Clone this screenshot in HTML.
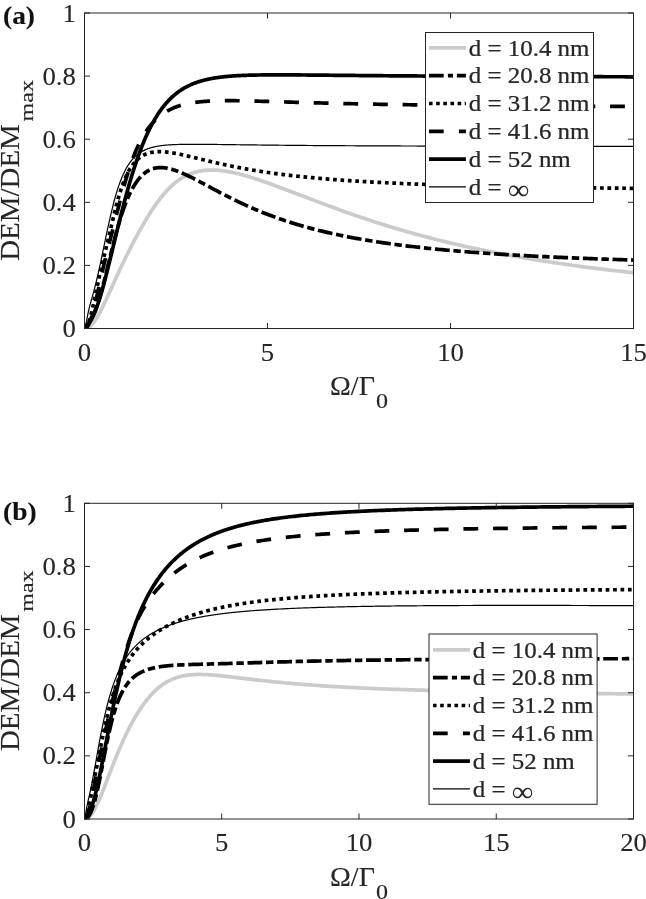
<!DOCTYPE html>
<html><head><meta charset="utf-8"><title>DEM plots</title>
<style>html,body{margin:0;padding:0;background:#fff}svg{display:block}text{font-family:"Liberation Serif","DejaVu Serif",serif;white-space:pre}</style>
</head><body>
<svg width="646" height="899" viewBox="0 0 646 899">
<rect width="646" height="899" fill="#fff"/>
<clipPath id="ca"><rect x="84.0" y="10.0" width="551.3" height="319.0"/></clipPath>
<g clip-path="url(#ca)" stroke-linejoin="round">
<path d="M84.50 328.50 L84.75 328.50 L85.00 328.48 L85.25 328.46 L85.50 328.42 L85.75 328.38 L86.00 328.33 L86.25 328.27 L86.50 328.19 L86.75 328.11 L87.00 328.02 L87.25 327.92 L87.50 327.81 L87.75 327.70 L88.00 327.57 L88.25 327.43 L88.50 327.29 L88.75 327.13 L89.00 326.97 L89.25 326.79 L89.50 326.61 L89.75 326.42 L90.00 326.22 L90.25 326.01 L90.50 325.80 L90.75 325.57 L91.00 325.34 L91.25 325.10 L91.50 324.84 L91.75 324.59 L92.00 324.32 L92.25 324.04 L92.50 323.76 L92.75 323.47 L93.00 323.17 L93.25 322.87 L93.50 322.55 L93.75 322.23 L94.00 321.91 L94.25 321.57 L94.50 321.23 L94.75 320.88 L95.00 320.52 L95.25 320.16 L95.50 319.79 L95.75 319.42 L96.00 319.04 L96.25 318.65 L96.50 318.25 L96.75 317.85 L97.00 317.45 L97.25 317.04 L97.50 316.62 L97.75 316.20 L98.00 315.77 L98.25 315.33 L98.50 314.90 L98.75 314.45 L99.00 314.00 L99.25 313.55 L99.50 313.09 L99.75 312.63 L100.00 312.16 L100.25 311.69 L100.50 311.22 L100.75 310.74 L101.00 310.26 L101.25 309.77 L101.50 309.28 L101.75 308.79 L102.00 308.29 L102.25 307.79 L102.50 307.28 L102.75 306.78 L103.00 306.27 L103.25 305.75 L103.50 305.24 L103.75 304.72 L104.00 304.20 L104.25 303.68 L104.50 303.15 L104.75 302.62 L105.00 302.09 L105.25 301.56 L105.50 301.03 L105.75 300.49 L106.00 299.96 L106.25 299.42 L106.50 298.88 L106.75 298.34 L107.00 297.79 L107.25 297.25 L107.50 296.70 L107.75 296.16 L108.00 295.61 L108.25 295.06 L108.50 294.51 L108.75 293.96 L109.00 293.41 L109.25 292.86 L109.50 292.31 L109.75 291.75 L110.00 291.20 L110.25 290.65 L110.50 290.09 L110.75 289.54 L111.00 288.99 L111.25 288.43 L111.50 287.88 L111.75 287.32 L112.00 286.77 L112.25 286.21 L112.50 285.66 L112.75 285.11 L113.00 284.55 L113.25 284.00 L113.50 283.45 L113.75 282.89 L114.00 282.34 L114.25 281.79 L114.50 281.24 L114.75 280.69 L115.00 280.14 L115.25 279.59 L115.50 279.04 L115.75 278.49 L116.00 277.94 L116.25 277.40 L116.50 276.85 L116.75 276.31 L117.00 275.76 L117.25 275.22 L117.50 274.67 L117.75 274.13 L118.00 273.59 L118.25 273.05 L118.50 272.51 L118.75 271.97 L119.00 271.44 L119.25 270.90 L119.50 270.37 L119.75 269.83 L120.00 269.30 L120.25 268.77 L120.50 268.23 L120.75 267.70 L121.00 267.17 L121.25 266.65 L121.50 266.12 L121.75 265.59 L122.00 265.07 L122.25 264.54 L122.50 264.02 L122.75 263.50 L123.00 262.98 L123.25 262.46 L123.50 261.94 L123.75 261.42 L124.00 260.91 L124.25 260.39 L124.50 259.88 L124.75 259.36 L125.00 258.85 L125.25 258.34 L125.50 257.83 L125.75 257.32 L126.00 256.82 L126.25 256.31 L126.50 255.80 L126.75 255.30 L127.00 254.80 L127.25 254.30 L127.50 253.79 L127.75 253.29 L128.00 252.80 L128.25 252.30 L128.50 251.80 L128.75 251.31 L129.00 250.81 L129.25 250.32 L129.50 249.82 L129.75 249.33 L130.00 248.84 L130.50 247.87 L131.00 246.89 L131.50 245.92 L132.00 244.96 L132.50 244.00 L133.00 243.04 L133.50 242.09 L134.00 241.14 L134.50 240.20 L135.00 239.26 L135.50 238.32 L136.00 237.39 L136.50 236.46 L137.00 235.54 L137.50 234.62 L138.00 233.71 L138.50 232.80 L139.00 231.89 L139.50 230.99 L140.00 230.09 L140.50 229.20 L141.00 228.31 L141.50 227.43 L142.00 226.55 L142.50 225.67 L143.00 224.80 L143.50 223.94 L144.00 223.08 L144.50 222.23 L145.00 221.38 L145.50 220.53 L146.00 219.70 L146.50 218.86 L147.00 218.04 L147.50 217.21 L148.00 216.40 L148.50 215.59 L149.00 214.78 L149.50 213.99 L150.00 213.19 L150.50 212.41 L151.00 211.63 L151.50 210.86 L152.00 210.09 L152.50 209.33 L153.00 208.58 L153.50 207.83 L154.00 207.09 L154.50 206.36 L155.00 205.63 L155.50 204.91 L156.00 204.20 L156.50 203.50 L157.00 202.80 L157.50 202.11 L158.00 201.43 L158.50 200.75 L159.00 200.09 L159.50 199.43 L160.00 198.78 L160.50 198.13 L161.00 197.50 L161.50 196.87 L162.00 196.25 L162.50 195.64 L163.00 195.03 L163.50 194.44 L164.00 193.85 L164.50 193.27 L165.00 192.70 L165.50 192.13 L166.00 191.58 L166.50 191.03 L167.00 190.49 L167.50 189.96 L168.00 189.43 L168.50 188.92 L169.00 188.41 L169.50 187.91 L170.00 187.42 L170.50 186.94 L171.00 186.46 L171.50 185.99 L172.00 185.53 L172.50 185.08 L173.00 184.64 L173.50 184.20 L174.00 183.78 L174.50 183.36 L175.00 182.95 L175.50 182.54 L176.00 182.15 L176.50 181.76 L177.00 181.38 L177.50 181.00 L178.00 180.64 L178.50 180.28 L179.00 179.93 L179.50 179.58 L180.00 179.25 L180.50 178.92 L181.00 178.60 L181.50 178.28 L182.00 177.97 L182.50 177.67 L183.00 177.38 L183.50 177.09 L184.00 176.81 L184.50 176.54 L185.00 176.27 L185.50 176.01 L186.00 175.76 L186.50 175.51 L187.00 175.27 L187.50 175.04 L188.00 174.81 L188.50 174.59 L189.00 174.37 L189.50 174.16 L190.00 173.96 L190.50 173.76 L191.00 173.57 L191.50 173.39 L192.00 173.21 L192.50 173.03 L193.00 172.87 L193.50 172.70 L194.00 172.55 L194.50 172.39 L195.00 172.25 L195.50 172.11 L196.00 171.97 L196.50 171.84 L197.00 171.72 L197.50 171.60 L198.00 171.48 L198.50 171.37 L199.00 171.26 L199.50 171.16 L200.00 171.07 L200.50 170.98 L201.00 170.89 L201.50 170.81 L202.00 170.73 L202.50 170.66 L203.00 170.59 L203.50 170.52 L204.00 170.46 L204.50 170.41 L205.00 170.35 L205.50 170.31 L206.00 170.26 L206.50 170.22 L207.00 170.19 L207.50 170.15 L208.00 170.13 L208.50 170.10 L209.00 170.08 L209.50 170.06 L210.00 170.05 L210.50 170.04 L211.00 170.03 L211.50 170.03 L212.00 170.03 L212.50 170.04 L213.00 170.04 L213.50 170.05 L214.00 170.07 L214.50 170.08 L215.00 170.10 L215.50 170.13 L216.00 170.15 L216.50 170.18 L217.00 170.21 L217.50 170.25 L218.00 170.28 L218.50 170.32 L219.00 170.37 L219.50 170.41 L220.00 170.46 L220.50 170.51 L221.00 170.57 L221.50 170.62 L222.00 170.68 L222.50 170.74 L223.00 170.81 L223.50 170.87 L224.00 170.94 L224.50 171.01 L225.00 171.09 L225.50 171.16 L226.00 171.24 L226.50 171.32 L227.00 171.40 L227.50 171.49 L228.00 171.57 L228.50 171.66 L229.00 171.75 L229.50 171.84 L230.00 171.94 L230.50 172.04 L231.00 172.13 L231.50 172.23 L232.00 172.34 L232.50 172.44 L233.00 172.55 L233.50 172.65 L234.00 172.76 L234.50 172.87 L235.00 172.99 L235.50 173.10 L236.00 173.22 L236.50 173.33 L237.00 173.45 L237.50 173.57 L238.00 173.70 L238.50 173.82 L239.00 173.95 L239.50 174.07 L240.00 174.20 L240.50 174.33 L241.00 174.46 L241.50 174.59 L242.00 174.73 L242.50 174.86 L243.00 175.00 L243.50 175.13 L244.00 175.27 L244.50 175.41 L245.00 175.55 L245.50 175.70 L246.00 175.84 L246.50 175.98 L247.00 176.13 L247.50 176.28 L248.00 176.43 L248.50 176.57 L249.00 176.72 L249.50 176.88 L250.00 177.03 L252.00 177.65 L254.00 178.28 L256.00 178.92 L258.00 179.58 L260.00 180.26 L262.00 180.94 L264.00 181.63 L266.00 182.33 L268.00 183.04 L270.00 183.76 L272.00 184.48 L274.00 185.21 L276.00 185.95 L278.00 186.69 L280.00 187.43 L282.00 188.18 L284.00 188.94 L286.00 189.69 L288.00 190.45 L290.00 191.21 L292.00 191.97 L294.00 192.74 L296.00 193.50 L298.00 194.27 L300.00 195.03 L302.00 195.80 L304.00 196.56 L306.00 197.33 L308.00 198.09 L310.00 198.85 L312.00 199.61 L314.00 200.37 L316.00 201.13 L318.00 201.88 L320.00 202.64 L322.00 203.39 L324.00 204.14 L326.00 204.88 L328.00 205.62 L330.00 206.36 L332.00 207.10 L334.00 207.83 L336.00 208.56 L338.00 209.28 L340.00 210.01 L342.00 210.72 L344.00 211.44 L346.00 212.15 L348.00 212.85 L350.00 213.56 L352.00 214.25 L354.00 214.95 L356.00 215.64 L358.00 216.32 L360.00 217.00 L362.00 217.68 L364.00 218.35 L366.00 219.02 L368.00 219.68 L370.00 220.34 L372.00 220.99 L374.00 221.64 L376.00 222.28 L378.00 222.92 L380.00 223.56 L382.00 224.19 L384.00 224.81 L386.00 225.43 L388.00 226.05 L390.00 226.66 L392.00 227.27 L394.00 227.87 L396.00 228.47 L398.00 229.06 L400.00 229.65 L402.00 230.23 L404.00 230.81 L406.00 231.38 L408.00 231.95 L410.00 232.51 L412.00 233.07 L414.00 233.63 L416.00 234.18 L418.00 234.72 L420.00 235.27 L422.00 235.80 L424.00 236.33 L426.00 236.86 L428.00 237.39 L430.00 237.91 L432.00 238.42 L434.00 238.93 L436.00 239.44 L438.00 239.94 L440.00 240.43 L442.00 240.93 L444.00 241.42 L446.00 241.90 L448.00 242.38 L450.00 242.86 L452.00 243.33 L454.00 243.80 L456.00 244.26 L458.00 244.72 L460.00 245.17 L462.00 245.63 L464.00 246.07 L466.00 246.52 L468.00 246.96 L470.00 247.39 L472.00 247.82 L474.00 248.25 L476.00 248.68 L478.00 249.10 L480.00 249.52 L482.00 249.93 L484.00 250.34 L486.00 250.74 L488.00 251.15 L490.00 251.55 L492.00 251.94 L494.00 252.33 L496.00 252.72 L498.00 253.11 L500.00 253.49 L502.00 253.87 L504.00 254.24 L506.00 254.61 L508.00 254.98 L510.00 255.35 L512.00 255.71 L514.00 256.07 L516.00 256.42 L518.00 256.77 L520.00 257.12 L522.00 257.47 L524.00 257.81 L526.00 258.15 L528.00 258.49 L530.00 258.82 L532.00 259.16 L534.00 259.48 L536.00 259.81 L538.00 260.13 L540.00 260.45 L542.00 260.77 L544.00 261.08 L546.00 261.39 L548.00 261.70 L550.00 262.01 L552.00 262.31 L554.00 262.61 L556.00 262.91 L558.00 263.21 L560.00 263.50 L562.00 263.79 L564.00 264.08 L566.00 264.36 L568.00 264.65 L570.00 264.93 L572.00 265.21 L574.00 265.48 L576.00 265.76 L578.00 266.03 L580.00 266.30 L582.00 266.56 L584.00 266.83 L586.00 267.09 L588.00 267.35 L590.00 267.60 L592.00 267.86 L594.00 268.11 L596.00 268.36 L598.00 268.61 L600.00 268.86 L602.00 269.10 L604.00 269.35 L606.00 269.59 L608.00 269.83 L610.00 270.06 L612.00 270.30 L614.00 270.53 L616.00 270.76 L618.00 270.99 L620.00 271.22 L622.00 271.44 L624.00 271.66 L626.00 271.89 L628.00 272.10 L630.00 272.32 L632.00 272.54 L633.50 272.70" stroke="#cbcbcb" stroke-width="3.7" fill="none"/>
<path d="M84.50 328.50 L84.75 328.48 L85.00 328.42 L85.25 328.33 L85.50 328.19 L85.75 328.02 L86.00 327.82 L86.25 327.58 L86.50 327.31 L86.75 327.01 L87.00 326.69 L87.25 326.34 L87.50 325.96 L87.75 325.57 L88.00 325.16 L88.25 324.73 L88.50 324.29 L88.75 323.83 L89.00 323.37 L89.25 322.89 L89.50 322.41 L89.75 321.92 L90.00 321.43 L90.25 320.93 L90.50 320.43 L90.75 319.92 L91.00 319.41 L91.25 318.90 L91.50 318.38 L91.75 317.86 L92.00 317.34 L92.25 316.81 L92.50 316.28 L92.75 315.75 L93.00 315.21 L93.25 314.66 L93.50 314.11 L93.75 313.56 L94.00 312.99 L94.25 312.42 L94.50 311.84 L94.75 311.25 L95.00 310.65 L95.25 310.05 L95.50 309.43 L95.75 308.80 L96.00 308.17 L96.25 307.52 L96.50 306.86 L96.75 306.19 L97.00 305.50 L97.25 304.81 L97.50 304.10 L97.75 303.38 L98.00 302.65 L98.25 301.90 L98.50 301.15 L98.75 300.38 L99.00 299.60 L99.25 298.80 L99.50 298.00 L99.75 297.18 L100.00 296.35 L100.25 295.51 L100.50 294.66 L100.75 293.80 L101.00 292.93 L101.25 292.04 L101.50 291.15 L101.75 290.24 L102.00 289.33 L102.25 288.41 L102.50 287.48 L102.75 286.54 L103.00 285.59 L103.25 284.63 L103.50 283.67 L103.75 282.70 L104.00 281.72 L104.25 280.74 L104.50 279.75 L104.75 278.76 L105.00 277.76 L105.25 276.75 L105.50 275.74 L105.75 274.73 L106.00 273.71 L106.25 272.69 L106.50 271.67 L106.75 270.65 L107.00 269.62 L107.25 268.59 L107.50 267.56 L107.75 266.53 L108.00 265.49 L108.25 264.46 L108.50 263.43 L108.75 262.39 L109.00 261.36 L109.25 260.33 L109.50 259.30 L109.75 258.27 L110.00 257.24 L110.25 256.21 L110.50 255.19 L110.75 254.17 L111.00 253.15 L111.25 252.13 L111.50 251.12 L111.75 250.11 L112.00 249.10 L112.25 248.10 L112.50 247.10 L112.75 246.11 L113.00 245.12 L113.25 244.14 L113.50 243.15 L113.75 242.18 L114.00 241.21 L114.25 240.24 L114.50 239.28 L114.75 238.33 L115.00 237.38 L115.25 236.44 L115.50 235.50 L115.75 234.57 L116.00 233.64 L116.25 232.73 L116.50 231.81 L116.75 230.91 L117.00 230.01 L117.25 229.12 L117.50 228.23 L117.75 227.35 L118.00 226.48 L118.25 225.61 L118.50 224.75 L118.75 223.90 L119.00 223.06 L119.25 222.22 L119.50 221.39 L119.75 220.57 L120.00 219.76 L120.25 218.95 L120.50 218.15 L120.75 217.35 L121.00 216.57 L121.25 215.79 L121.50 215.02 L121.75 214.26 L122.00 213.50 L122.25 212.75 L122.50 212.01 L122.75 211.28 L123.00 210.55 L123.25 209.83 L123.50 209.12 L123.75 208.42 L124.00 207.72 L124.25 207.04 L124.50 206.36 L124.75 205.68 L125.00 205.02 L125.25 204.36 L125.50 203.71 L125.75 203.06 L126.00 202.43 L126.25 201.80 L126.50 201.18 L126.75 200.56 L127.00 199.96 L127.25 199.36 L127.50 198.77 L127.75 198.18 L128.00 197.60 L128.25 197.03 L128.50 196.47 L128.75 195.91 L129.00 195.36 L129.25 194.82 L129.50 194.28 L129.75 193.76 L130.00 193.23 L130.50 192.21 L131.00 191.21 L131.50 190.24 L132.00 189.30 L132.50 188.39 L133.00 187.49 L133.50 186.63 L134.00 185.79 L134.50 184.97 L135.00 184.18 L135.50 183.41 L136.00 182.66 L136.50 181.94 L137.00 181.24 L137.50 180.57 L138.00 179.91 L138.50 179.28 L139.00 178.67 L139.50 178.07 L140.00 177.50 L140.50 176.95 L141.00 176.42 L141.50 175.91 L142.00 175.42 L142.50 174.94 L143.00 174.49 L143.50 174.05 L144.00 173.63 L144.50 173.22 L145.00 172.84 L145.50 172.47 L146.00 172.11 L146.50 171.78 L147.00 171.45 L147.50 171.15 L148.00 170.85 L148.50 170.58 L149.00 170.31 L149.50 170.06 L150.00 169.83 L150.50 169.61 L151.00 169.40 L151.50 169.20 L152.00 169.02 L152.50 168.85 L153.00 168.69 L153.50 168.54 L154.00 168.41 L154.50 168.28 L155.00 168.17 L155.50 168.07 L156.00 167.98 L156.50 167.89 L157.00 167.82 L157.50 167.76 L158.00 167.71 L158.50 167.67 L159.00 167.63 L159.50 167.61 L160.00 167.59 L160.50 167.59 L161.00 167.59 L161.50 167.60 L162.00 167.61 L162.50 167.64 L163.00 167.67 L163.50 167.71 L164.00 167.76 L164.50 167.81 L165.00 167.87 L165.50 167.94 L166.00 168.02 L166.50 168.10 L167.00 168.18 L167.50 168.28 L168.00 168.38 L168.50 168.48 L169.00 168.59 L169.50 168.71 L170.00 168.83 L170.50 168.95 L171.00 169.09 L171.50 169.22 L172.00 169.36 L172.50 169.51 L173.00 169.66 L173.50 169.81 L174.00 169.97 L174.50 170.14 L175.00 170.30 L175.50 170.48 L176.00 170.65 L176.50 170.83 L177.00 171.01 L177.50 171.20 L178.00 171.39 L178.50 171.58 L179.00 171.78 L179.50 171.97 L180.00 172.18 L180.50 172.38 L181.00 172.59 L181.50 172.80 L182.00 173.01 L182.50 173.23 L183.00 173.45 L183.50 173.67 L184.00 173.89 L184.50 174.11 L185.00 174.34 L185.50 174.57 L186.00 174.80 L186.50 175.04 L187.00 175.27 L187.50 175.51 L188.00 175.75 L188.50 175.99 L189.00 176.23 L189.50 176.48 L190.00 176.72 L190.50 176.97 L191.00 177.22 L191.50 177.47 L192.00 177.72 L192.50 177.97 L193.00 178.22 L193.50 178.48 L194.00 178.73 L194.50 178.99 L195.00 179.25 L195.50 179.50 L196.00 179.76 L196.50 180.02 L197.00 180.28 L197.50 180.55 L198.00 180.81 L198.50 181.07 L199.00 181.33 L199.50 181.60 L200.00 181.86 L200.50 182.13 L201.00 182.39 L201.50 182.66 L202.00 182.93 L202.50 183.19 L203.00 183.46 L203.50 183.73 L204.00 184.00 L204.50 184.26 L205.00 184.53 L205.50 184.80 L206.00 185.07 L206.50 185.34 L207.00 185.60 L207.50 185.87 L208.00 186.14 L208.50 186.41 L209.00 186.68 L209.50 186.95 L210.00 187.22 L210.50 187.48 L211.00 187.75 L211.50 188.02 L212.00 188.29 L212.50 188.56 L213.00 188.82 L213.50 189.09 L214.00 189.36 L214.50 189.62 L215.00 189.89 L215.50 190.16 L216.00 190.42 L216.50 190.69 L217.00 190.95 L217.50 191.22 L218.00 191.48 L218.50 191.75 L219.00 192.01 L219.50 192.27 L220.00 192.54 L220.50 192.80 L221.00 193.06 L221.50 193.32 L222.00 193.58 L222.50 193.84 L223.00 194.10 L223.50 194.36 L224.00 194.62 L224.50 194.88 L225.00 195.13 L225.50 195.39 L226.00 195.65 L226.50 195.90 L227.00 196.16 L227.50 196.41 L228.00 196.67 L228.50 196.92 L229.00 197.17 L229.50 197.42 L230.00 197.68 L230.50 197.93 L231.00 198.18 L231.50 198.43 L232.00 198.67 L232.50 198.92 L233.00 199.17 L233.50 199.42 L234.00 199.66 L234.50 199.91 L235.00 200.15 L235.50 200.39 L236.00 200.64 L236.50 200.88 L237.00 201.12 L237.50 201.36 L238.00 201.60 L238.50 201.84 L239.00 202.08 L239.50 202.32 L240.00 202.55 L240.50 202.79 L241.00 203.02 L241.50 203.26 L242.00 203.49 L242.50 203.72 L243.00 203.96 L243.50 204.19 L244.00 204.42 L244.50 204.65 L245.00 204.88 L245.50 205.11 L246.00 205.33 L246.50 205.56 L247.00 205.79 L247.50 206.01 L248.00 206.23 L248.50 206.46 L249.00 206.68 L249.50 206.90 L250.00 207.12 L252.00 208.00 L254.00 208.86 L256.00 209.71 L258.00 210.55 L260.00 211.37 L262.00 212.18 L264.00 212.98 L266.00 213.77 L268.00 214.54 L270.00 215.30 L272.00 216.05 L274.00 216.78 L276.00 217.51 L278.00 218.22 L280.00 218.92 L282.00 219.61 L284.00 220.28 L286.00 220.95 L288.00 221.60 L290.00 222.25 L292.00 222.88 L294.00 223.50 L296.00 224.11 L298.00 224.71 L300.00 225.30 L302.00 225.88 L304.00 226.45 L306.00 227.01 L308.00 227.56 L310.00 228.10 L312.00 228.64 L314.00 229.16 L316.00 229.67 L318.00 230.18 L320.00 230.68 L322.00 231.16 L324.00 231.64 L326.00 232.12 L328.00 232.58 L330.00 233.04 L332.00 233.48 L334.00 233.93 L336.00 234.36 L338.00 234.79 L340.00 235.20 L342.00 235.62 L344.00 236.02 L346.00 236.42 L348.00 236.81 L350.00 237.20 L352.00 237.58 L354.00 237.95 L356.00 238.32 L358.00 238.68 L360.00 239.03 L362.00 239.38 L364.00 239.73 L366.00 240.06 L368.00 240.40 L370.00 240.72 L372.00 241.04 L374.00 241.36 L376.00 241.67 L378.00 241.98 L380.00 242.28 L382.00 242.58 L384.00 242.87 L386.00 243.16 L388.00 243.44 L390.00 243.72 L392.00 244.00 L394.00 244.27 L396.00 244.53 L398.00 244.80 L400.00 245.06 L402.00 245.31 L404.00 245.56 L406.00 245.81 L408.00 246.05 L410.00 246.29 L412.00 246.53 L414.00 246.76 L416.00 246.99 L418.00 247.21 L420.00 247.43 L422.00 247.65 L424.00 247.87 L426.00 248.08 L428.00 248.29 L430.00 248.50 L432.00 248.70 L434.00 248.90 L436.00 249.10 L438.00 249.29 L440.00 249.49 L442.00 249.68 L444.00 249.86 L446.00 250.05 L448.00 250.23 L450.00 250.41 L452.00 250.58 L454.00 250.76 L456.00 250.93 L458.00 251.10 L460.00 251.27 L462.00 251.43 L464.00 251.59 L466.00 251.75 L468.00 251.91 L470.00 252.07 L472.00 252.22 L474.00 252.37 L476.00 252.52 L478.00 252.67 L480.00 252.82 L482.00 252.96 L484.00 253.10 L486.00 253.24 L488.00 253.38 L490.00 253.52 L492.00 253.65 L494.00 253.79 L496.00 253.92 L498.00 254.05 L500.00 254.18 L502.00 254.30 L504.00 254.43 L506.00 254.55 L508.00 254.67 L510.00 254.79 L512.00 254.91 L514.00 255.03 L516.00 255.14 L518.00 255.26 L520.00 255.37 L522.00 255.48 L524.00 255.59 L526.00 255.70 L528.00 255.81 L530.00 255.92 L532.00 256.02 L534.00 256.13 L536.00 256.23 L538.00 256.33 L540.00 256.43 L542.00 256.53 L544.00 256.63 L546.00 256.72 L548.00 256.82 L550.00 256.91 L552.00 257.01 L554.00 257.10 L556.00 257.19 L558.00 257.28 L560.00 257.37 L562.00 257.46 L564.00 257.54 L566.00 257.63 L568.00 257.71 L570.00 257.80 L572.00 257.88 L574.00 257.96 L576.00 258.05 L578.00 258.13 L580.00 258.21 L582.00 258.28 L584.00 258.36 L586.00 258.44 L588.00 258.51 L590.00 258.59 L592.00 258.66 L594.00 258.74 L596.00 258.81 L598.00 258.88 L600.00 258.95 L602.00 259.03 L604.00 259.09 L606.00 259.16 L608.00 259.23 L610.00 259.30 L612.00 259.37 L614.00 259.43 L616.00 259.50 L618.00 259.56 L620.00 259.63 L622.00 259.69 L624.00 259.75 L626.00 259.82 L628.00 259.88 L630.00 259.94 L632.00 260.00 L633.50 260.04" stroke="#000" stroke-width="3.7" fill="none" stroke-dasharray="14.82 3.71 7.41 3.71" stroke-dashoffset="29.09"/>
<path d="M84.50 328.50 L84.75 328.48 L85.00 328.41 L85.25 328.30 L85.50 328.15 L85.75 327.95 L86.00 327.70 L86.25 327.42 L86.50 327.09 L86.75 326.72 L87.00 326.31 L87.25 325.86 L87.50 325.36 L87.75 324.83 L88.00 324.26 L88.25 323.65 L88.50 323.01 L88.75 322.33 L89.00 321.61 L89.25 320.86 L89.50 320.08 L89.75 319.26 L90.00 318.42 L90.25 317.55 L90.50 316.65 L90.75 315.72 L91.00 314.76 L91.25 313.79 L91.50 312.79 L91.75 311.76 L92.00 310.72 L92.25 309.66 L92.50 308.58 L92.75 307.49 L93.00 306.38 L93.25 305.25 L93.50 304.11 L93.75 302.97 L94.00 301.81 L94.25 300.64 L94.50 299.47 L94.75 298.28 L95.00 297.10 L95.25 295.91 L95.50 294.71 L95.75 293.52 L96.00 292.32 L96.25 291.12 L96.50 289.92 L96.75 288.73 L97.00 287.53 L97.25 286.34 L97.50 285.15 L97.75 283.97 L98.00 282.79 L98.25 281.62 L98.50 280.45 L98.75 279.29 L99.00 278.14 L99.25 276.99 L99.50 275.85 L99.75 274.72 L100.00 273.59 L100.25 272.48 L100.50 271.37 L100.75 270.26 L101.00 269.17 L101.25 268.08 L101.50 267.00 L101.75 265.93 L102.00 264.86 L102.25 263.80 L102.50 262.75 L102.75 261.70 L103.00 260.66 L103.25 259.62 L103.50 258.59 L103.75 257.55 L104.00 256.53 L104.25 255.50 L104.50 254.48 L104.75 253.46 L105.00 252.44 L105.25 251.42 L105.50 250.40 L105.75 249.38 L106.00 248.36 L106.25 247.34 L106.50 246.31 L106.75 245.29 L107.00 244.26 L107.25 243.23 L107.50 242.20 L107.75 241.16 L108.00 240.12 L108.25 239.08 L108.50 238.04 L108.75 236.99 L109.00 235.94 L109.25 234.89 L109.50 233.83 L109.75 232.77 L110.00 231.71 L110.25 230.65 L110.50 229.59 L110.75 228.53 L111.00 227.46 L111.25 226.40 L111.50 225.33 L111.75 224.27 L112.00 223.21 L112.25 222.15 L112.50 221.09 L112.75 220.03 L113.00 218.98 L113.25 217.94 L113.50 216.89 L113.75 215.85 L114.00 214.82 L114.25 213.79 L114.50 212.77 L114.75 211.76 L115.00 210.75 L115.25 209.75 L115.50 208.75 L115.75 207.77 L116.00 206.79 L116.25 205.83 L116.50 204.87 L116.75 203.92 L117.00 202.98 L117.25 202.05 L117.50 201.13 L117.75 200.23 L118.00 199.33 L118.25 198.44 L118.50 197.56 L118.75 196.70 L119.00 195.84 L119.25 195.00 L119.50 194.17 L119.75 193.35 L120.00 192.54 L120.25 191.74 L120.50 190.95 L120.75 190.17 L121.00 189.41 L121.25 188.66 L121.50 187.91 L121.75 187.18 L122.00 186.46 L122.25 185.75 L122.50 185.06 L122.75 184.37 L123.00 183.69 L123.25 183.03 L123.50 182.37 L123.75 181.73 L124.00 181.10 L124.25 180.47 L124.50 179.86 L124.75 179.26 L125.00 178.67 L125.25 178.09 L125.50 177.51 L125.75 176.95 L126.00 176.40 L126.25 175.85 L126.50 175.32 L126.75 174.80 L127.00 174.28 L127.25 173.78 L127.50 173.28 L127.75 172.79 L128.00 172.31 L128.25 171.84 L128.50 171.38 L128.75 170.92 L129.00 170.48 L129.25 170.04 L129.50 169.61 L129.75 169.19 L130.00 168.77 L130.50 167.97 L131.00 167.19 L131.50 166.44 L132.00 165.72 L132.50 165.03 L133.00 164.37 L133.50 163.73 L134.00 163.11 L134.50 162.52 L135.00 161.95 L135.50 161.40 L136.00 160.88 L136.50 160.37 L137.00 159.89 L137.50 159.43 L138.00 158.98 L138.50 158.56 L139.00 158.15 L139.50 157.76 L140.00 157.39 L140.50 157.03 L141.00 156.69 L141.50 156.36 L142.00 156.05 L142.50 155.75 L143.00 155.47 L143.50 155.20 L144.00 154.94 L144.50 154.70 L145.00 154.46 L145.50 154.24 L146.00 154.04 L146.50 153.84 L147.00 153.65 L147.50 153.48 L148.00 153.31 L148.50 153.15 L149.00 153.01 L149.50 152.87 L150.00 152.74 L150.50 152.62 L151.00 152.51 L151.50 152.40 L152.00 152.31 L152.50 152.22 L153.00 152.14 L153.50 152.07 L154.00 152.00 L154.50 151.94 L155.00 151.89 L155.50 151.84 L156.00 151.80 L156.50 151.77 L157.00 151.74 L157.50 151.71 L158.00 151.70 L158.50 151.68 L159.00 151.67 L159.50 151.67 L160.00 151.67 L160.50 151.68 L161.00 151.69 L161.50 151.71 L162.00 151.73 L162.50 151.75 L163.00 151.78 L163.50 151.81 L164.00 151.84 L164.50 151.88 L165.00 151.92 L165.50 151.97 L166.00 152.02 L166.50 152.07 L167.00 152.12 L167.50 152.18 L168.00 152.24 L168.50 152.30 L169.00 152.37 L169.50 152.43 L170.00 152.50 L170.50 152.58 L171.00 152.65 L171.50 152.73 L172.00 152.81 L172.50 152.89 L173.00 152.97 L173.50 153.06 L174.00 153.14 L174.50 153.23 L175.00 153.32 L175.50 153.42 L176.00 153.51 L176.50 153.60 L177.00 153.70 L177.50 153.80 L178.00 153.90 L178.50 154.00 L179.00 154.10 L179.50 154.20 L180.00 154.31 L180.50 154.41 L181.00 154.52 L181.50 154.63 L182.00 154.73 L182.50 154.84 L183.00 154.95 L183.50 155.06 L184.00 155.17 L184.50 155.29 L185.00 155.40 L185.50 155.51 L186.00 155.63 L186.50 155.74 L187.00 155.86 L187.50 155.97 L188.00 156.09 L188.50 156.21 L189.00 156.33 L189.50 156.44 L190.00 156.56 L190.50 156.68 L191.00 156.80 L191.50 156.92 L192.00 157.04 L192.50 157.16 L193.00 157.28 L193.50 157.40 L194.00 157.52 L194.50 157.64 L195.00 157.76 L195.50 157.88 L196.00 158.00 L196.50 158.12 L197.00 158.24 L197.50 158.36 L198.00 158.48 L198.50 158.61 L199.00 158.73 L199.50 158.85 L200.00 158.97 L200.50 159.09 L201.00 159.21 L201.50 159.33 L202.00 159.45 L202.50 159.57 L203.00 159.69 L203.50 159.82 L204.00 159.94 L204.50 160.06 L205.00 160.18 L205.50 160.30 L206.00 160.42 L206.50 160.54 L207.00 160.65 L207.50 160.77 L208.00 160.89 L208.50 161.01 L209.00 161.13 L209.50 161.25 L210.00 161.37 L210.50 161.48 L211.00 161.60 L211.50 161.72 L212.00 161.83 L212.50 161.95 L213.00 162.07 L213.50 162.18 L214.00 162.30 L214.50 162.41 L215.00 162.53 L215.50 162.64 L216.00 162.76 L216.50 162.87 L217.00 162.99 L217.50 163.10 L218.00 163.21 L218.50 163.32 L219.00 163.44 L219.50 163.55 L220.00 163.66 L220.50 163.77 L221.00 163.88 L221.50 163.99 L222.00 164.10 L222.50 164.21 L223.00 164.32 L223.50 164.43 L224.00 164.54 L224.50 164.65 L225.00 164.75 L225.50 164.86 L226.00 164.97 L226.50 165.07 L227.00 165.18 L227.50 165.29 L228.00 165.39 L228.50 165.50 L229.00 165.60 L229.50 165.70 L230.00 165.81 L230.50 165.91 L231.00 166.01 L231.50 166.12 L232.00 166.22 L232.50 166.32 L233.00 166.42 L233.50 166.52 L234.00 166.62 L234.50 166.72 L235.00 166.82 L235.50 166.92 L236.00 167.02 L236.50 167.12 L237.00 167.21 L237.50 167.31 L238.00 167.41 L238.50 167.50 L239.00 167.60 L239.50 167.70 L240.00 167.79 L240.50 167.89 L241.00 167.98 L241.50 168.07 L242.00 168.17 L242.50 168.26 L243.00 168.35 L243.50 168.45 L244.00 168.54 L244.50 168.63 L245.00 168.72 L245.50 168.81 L246.00 168.90 L246.50 168.99 L247.00 169.08 L247.50 169.17 L248.00 169.26 L248.50 169.34 L249.00 169.43 L249.50 169.52 L250.00 169.61 L252.00 169.95 L254.00 170.29 L256.00 170.62 L258.00 170.94 L260.00 171.26 L262.00 171.57 L264.00 171.88 L266.00 172.18 L268.00 172.47 L270.00 172.76 L272.00 173.04 L274.00 173.32 L276.00 173.59 L278.00 173.86 L280.00 174.12 L282.00 174.38 L284.00 174.63 L286.00 174.87 L288.00 175.12 L290.00 175.35 L292.00 175.58 L294.00 175.81 L296.00 176.04 L298.00 176.25 L300.00 176.47 L302.00 176.68 L304.00 176.89 L306.00 177.09 L308.00 177.29 L310.00 177.48 L312.00 177.67 L314.00 177.86 L316.00 178.05 L318.00 178.23 L320.00 178.40 L322.00 178.58 L324.00 178.75 L326.00 178.91 L328.00 179.08 L330.00 179.24 L332.00 179.40 L334.00 179.55 L336.00 179.71 L338.00 179.86 L340.00 180.00 L342.00 180.15 L344.00 180.29 L346.00 180.43 L348.00 180.56 L350.00 180.70 L352.00 180.83 L354.00 180.96 L356.00 181.09 L358.00 181.21 L360.00 181.33 L362.00 181.45 L364.00 181.57 L366.00 181.69 L368.00 181.80 L370.00 181.91 L372.00 182.03 L374.00 182.13 L376.00 182.24 L378.00 182.35 L380.00 182.45 L382.00 182.55 L384.00 182.65 L386.00 182.75 L388.00 182.84 L390.00 182.94 L392.00 183.03 L394.00 183.12 L396.00 183.21 L398.00 183.30 L400.00 183.39 L402.00 183.48 L404.00 183.56 L406.00 183.64 L408.00 183.73 L410.00 183.81 L412.00 183.89 L414.00 183.96 L416.00 184.04 L418.00 184.12 L420.00 184.19 L422.00 184.27 L424.00 184.34 L426.00 184.41 L428.00 184.48 L430.00 184.55 L432.00 184.62 L434.00 184.68 L436.00 184.75 L438.00 184.81 L440.00 184.88 L442.00 184.94 L444.00 185.00 L446.00 185.06 L448.00 185.12 L450.00 185.18 L452.00 185.24 L454.00 185.30 L456.00 185.36 L458.00 185.41 L460.00 185.47 L462.00 185.52 L464.00 185.58 L466.00 185.63 L468.00 185.68 L470.00 185.73 L472.00 185.78 L474.00 185.83 L476.00 185.88 L478.00 185.93 L480.00 185.98 L482.00 186.03 L484.00 186.07 L486.00 186.12 L488.00 186.17 L490.00 186.21 L492.00 186.26 L494.00 186.30 L496.00 186.34 L498.00 186.38 L500.00 186.43 L502.00 186.47 L504.00 186.51 L506.00 186.55 L508.00 186.59 L510.00 186.63 L512.00 186.67 L514.00 186.71 L516.00 186.74 L518.00 186.78 L520.00 186.82 L522.00 186.85 L524.00 186.89 L526.00 186.93 L528.00 186.96 L530.00 187.00 L532.00 187.03 L534.00 187.06 L536.00 187.10 L538.00 187.13 L540.00 187.16 L542.00 187.19 L544.00 187.23 L546.00 187.26 L548.00 187.29 L550.00 187.32 L552.00 187.35 L554.00 187.38 L556.00 187.41 L558.00 187.44 L560.00 187.47 L562.00 187.50 L564.00 187.52 L566.00 187.55 L568.00 187.58 L570.00 187.61 L572.00 187.63 L574.00 187.66 L576.00 187.69 L578.00 187.71 L580.00 187.74 L582.00 187.76 L584.00 187.79 L586.00 187.81 L588.00 187.84 L590.00 187.86 L592.00 187.89 L594.00 187.91 L596.00 187.93 L598.00 187.96 L600.00 187.98 L602.00 188.00 L604.00 188.03 L606.00 188.05 L608.00 188.07 L610.00 188.09 L612.00 188.11 L614.00 188.14 L616.00 188.16 L618.00 188.18 L620.00 188.20 L622.00 188.22 L624.00 188.24 L626.00 188.26 L628.00 188.28 L630.00 188.30 L632.00 188.32 L633.50 188.33" stroke="#000" stroke-width="3.7" fill="none" stroke-dasharray="3.71 3.71" stroke-dashoffset="6.65"/>
<path d="M84.50 328.50 L84.75 328.48 L85.00 328.44 L85.25 328.36 L85.50 328.25 L85.75 328.11 L86.00 327.94 L86.25 327.74 L86.50 327.51 L86.75 327.25 L87.00 326.96 L87.25 326.64 L87.50 326.29 L87.75 325.92 L88.00 325.51 L88.25 325.07 L88.50 324.61 L88.75 324.12 L89.00 323.60 L89.25 323.05 L89.50 322.48 L89.75 321.88 L90.00 321.25 L90.25 320.60 L90.50 319.93 L90.75 319.23 L91.00 318.50 L91.25 317.76 L91.50 316.99 L91.75 316.20 L92.00 315.39 L92.25 314.55 L92.50 313.70 L92.75 312.83 L93.00 311.94 L93.25 311.03 L93.50 310.10 L93.75 309.16 L94.00 308.20 L94.25 307.22 L94.50 306.23 L94.75 305.23 L95.00 304.21 L95.25 303.18 L95.50 302.14 L95.75 301.08 L96.00 300.02 L96.25 298.95 L96.50 297.86 L96.75 296.77 L97.00 295.67 L97.25 294.57 L97.50 293.46 L97.75 292.34 L98.00 291.22 L98.25 290.09 L98.50 288.96 L98.75 287.83 L99.00 286.69 L99.25 285.56 L99.50 284.42 L99.75 283.28 L100.00 282.15 L100.25 281.01 L100.50 279.87 L100.75 278.74 L101.00 277.61 L101.25 276.48 L101.50 275.36 L101.75 274.24 L102.00 273.12 L102.25 272.01 L102.50 270.90 L102.75 269.80 L103.00 268.71 L103.25 267.62 L103.50 266.53 L103.75 265.45 L104.00 264.38 L104.25 263.32 L104.50 262.26 L104.75 261.20 L105.00 260.16 L105.25 259.11 L105.50 258.08 L105.75 257.05 L106.00 256.03 L106.25 255.01 L106.50 254.00 L106.75 252.99 L107.00 251.99 L107.25 250.99 L107.50 250.00 L107.75 249.01 L108.00 248.03 L108.25 247.05 L108.50 246.07 L108.75 245.10 L109.00 244.12 L109.25 243.15 L109.50 242.18 L109.75 241.22 L110.00 240.25 L110.25 239.29 L110.50 238.32 L110.75 237.36 L111.00 236.39 L111.25 235.42 L111.50 234.46 L111.75 233.49 L112.00 232.52 L112.25 231.56 L112.50 230.59 L112.75 229.61 L113.00 228.64 L113.25 227.67 L113.50 226.69 L113.75 225.71 L114.00 224.73 L114.25 223.75 L114.50 222.77 L114.75 221.79 L115.00 220.80 L115.25 219.82 L115.50 218.83 L115.75 217.84 L116.00 216.85 L116.25 215.86 L116.50 214.87 L116.75 213.88 L117.00 212.90 L117.25 211.91 L117.50 210.92 L117.75 209.93 L118.00 208.94 L118.25 207.96 L118.50 206.97 L118.75 205.99 L119.00 205.01 L119.25 204.03 L119.50 203.05 L119.75 202.08 L120.00 201.11 L120.25 200.14 L120.50 199.18 L120.75 198.22 L121.00 197.26 L121.25 196.31 L121.50 195.36 L121.75 194.41 L122.00 193.47 L122.25 192.54 L122.50 191.61 L122.75 190.68 L123.00 189.76 L123.25 188.84 L123.50 187.93 L123.75 187.03 L124.00 186.13 L124.25 185.23 L124.50 184.35 L124.75 183.46 L125.00 182.59 L125.25 181.72 L125.50 180.85 L125.75 180.00 L126.00 179.15 L126.25 178.30 L126.50 177.46 L126.75 176.63 L127.00 175.81 L127.25 174.99 L127.50 174.18 L127.75 173.37 L128.00 172.57 L128.25 171.78 L128.50 171.00 L128.75 170.22 L129.00 169.45 L129.25 168.69 L129.50 167.93 L129.75 167.18 L130.00 166.43 L130.50 164.97 L131.00 163.53 L131.50 162.11 L132.00 160.73 L132.50 159.37 L133.00 158.03 L133.50 156.73 L134.00 155.45 L134.50 154.19 L135.00 152.96 L135.50 151.75 L136.00 150.57 L136.50 149.42 L137.00 148.29 L137.50 147.18 L138.00 146.09 L138.50 145.03 L139.00 143.99 L139.50 142.97 L140.00 141.98 L140.50 141.00 L141.00 140.05 L141.50 139.12 L142.00 138.20 L142.50 137.31 L143.00 136.44 L143.50 135.58 L144.00 134.75 L144.50 133.93 L145.00 133.13 L145.50 132.35 L146.00 131.58 L146.50 130.84 L147.00 130.11 L147.50 129.39 L148.00 128.69 L148.50 128.01 L149.00 127.34 L149.50 126.69 L150.00 126.05 L150.50 125.43 L151.00 124.82 L151.50 124.22 L152.00 123.64 L152.50 123.07 L153.00 122.51 L153.50 121.97 L154.00 121.43 L154.50 120.91 L155.00 120.41 L155.50 119.91 L156.00 119.42 L156.50 118.95 L157.00 118.49 L157.50 118.03 L158.00 117.59 L158.50 117.16 L159.00 116.74 L159.50 116.32 L160.00 115.92 L160.50 115.53 L161.00 115.14 L161.50 114.76 L162.00 114.40 L162.50 114.04 L163.00 113.69 L163.50 113.34 L164.00 113.01 L164.50 112.68 L165.00 112.36 L165.50 112.05 L166.00 111.75 L166.50 111.45 L167.00 111.16 L167.50 110.87 L168.00 110.60 L168.50 110.33 L169.00 110.06 L169.50 109.80 L170.00 109.55 L170.50 109.31 L171.00 109.07 L171.50 108.83 L172.00 108.60 L172.50 108.38 L173.00 108.16 L173.50 107.95 L174.00 107.74 L174.50 107.54 L175.00 107.34 L175.50 107.15 L176.00 106.96 L176.50 106.77 L177.00 106.59 L177.50 106.42 L178.00 106.25 L178.50 106.08 L179.00 105.92 L179.50 105.76 L180.00 105.60 L180.50 105.45 L181.00 105.31 L181.50 105.16 L182.00 105.02 L182.50 104.89 L183.00 104.75 L183.50 104.62 L184.00 104.50 L184.50 104.37 L185.00 104.25 L185.50 104.14 L186.00 104.02 L186.50 103.91 L187.00 103.80 L187.50 103.70 L188.00 103.60 L188.50 103.50 L189.00 103.40 L189.50 103.31 L190.00 103.21 L190.50 103.12 L191.00 103.04 L191.50 102.95 L192.00 102.87 L192.50 102.79 L193.00 102.71 L193.50 102.63 L194.00 102.56 L194.50 102.49 L195.00 102.42 L195.50 102.35 L196.00 102.28 L196.50 102.22 L197.00 102.16 L197.50 102.10 L198.00 102.04 L198.50 101.98 L199.00 101.93 L199.50 101.87 L200.00 101.82 L200.50 101.77 L201.00 101.72 L201.50 101.68 L202.00 101.63 L202.50 101.59 L203.00 101.54 L203.50 101.50 L204.00 101.46 L204.50 101.42 L205.00 101.39 L205.50 101.35 L206.00 101.31 L206.50 101.28 L207.00 101.25 L207.50 101.22 L208.00 101.19 L208.50 101.16 L209.00 101.13 L209.50 101.10 L210.00 101.08 L210.50 101.05 L211.00 101.03 L211.50 101.01 L212.00 100.98 L212.50 100.96 L213.00 100.94 L213.50 100.92 L214.00 100.90 L214.50 100.89 L215.00 100.87 L215.50 100.85 L216.00 100.84 L216.50 100.82 L217.00 100.81 L217.50 100.80 L218.00 100.79 L218.50 100.77 L219.00 100.76 L219.50 100.75 L220.00 100.74 L220.50 100.74 L221.00 100.73 L221.50 100.72 L222.00 100.71 L222.50 100.71 L223.00 100.70 L223.50 100.70 L224.00 100.69 L224.50 100.69 L225.00 100.68 L225.50 100.68 L226.00 100.68 L226.50 100.68 L227.00 100.68 L227.50 100.67 L228.00 100.67 L228.50 100.67 L229.00 100.67 L229.50 100.68 L230.00 100.68 L230.50 100.68 L231.00 100.68 L231.50 100.68 L232.00 100.68 L232.50 100.69 L233.00 100.69 L233.50 100.70 L234.00 100.70 L234.50 100.70 L235.00 100.71 L235.50 100.71 L236.00 100.72 L236.50 100.72 L237.00 100.73 L237.50 100.74 L238.00 100.74 L238.50 100.75 L239.00 100.76 L239.50 100.77 L240.00 100.77 L240.50 100.78 L241.00 100.79 L241.50 100.80 L242.00 100.81 L242.50 100.81 L243.00 100.82 L243.50 100.83 L244.00 100.84 L244.50 100.85 L245.00 100.86 L245.50 100.87 L246.00 100.88 L246.50 100.89 L247.00 100.90 L247.50 100.91 L248.00 100.93 L248.50 100.94 L249.00 100.95 L249.50 100.96 L250.00 100.97 L252.00 101.02 L254.00 101.07 L256.00 101.12 L258.00 101.17 L260.00 101.23 L262.00 101.28 L264.00 101.34 L266.00 101.40 L268.00 101.45 L270.00 101.51 L272.00 101.57 L274.00 101.63 L276.00 101.69 L278.00 101.75 L280.00 101.81 L282.00 101.87 L284.00 101.93 L286.00 101.99 L288.00 102.05 L290.00 102.11 L292.00 102.17 L294.00 102.23 L296.00 102.29 L298.00 102.35 L300.00 102.41 L302.00 102.47 L304.00 102.52 L306.00 102.58 L308.00 102.64 L310.00 102.69 L312.00 102.75 L314.00 102.80 L316.00 102.86 L318.00 102.91 L320.00 102.96 L322.00 103.01 L324.00 103.07 L326.00 103.12 L328.00 103.17 L330.00 103.22 L332.00 103.27 L334.00 103.32 L336.00 103.36 L338.00 103.41 L340.00 103.46 L342.00 103.50 L344.00 103.55 L346.00 103.60 L348.00 103.64 L350.00 103.68 L352.00 103.73 L354.00 103.77 L356.00 103.81 L358.00 103.86 L360.00 103.90 L362.00 103.94 L364.00 103.98 L366.00 104.02 L368.00 104.06 L370.00 104.09 L372.00 104.13 L374.00 104.17 L376.00 104.21 L378.00 104.24 L380.00 104.28 L382.00 104.31 L384.00 104.35 L386.00 104.38 L388.00 104.42 L390.00 104.45 L392.00 104.48 L394.00 104.52 L396.00 104.55 L398.00 104.58 L400.00 104.61 L402.00 104.64 L404.00 104.67 L406.00 104.70 L408.00 104.73 L410.00 104.76 L412.00 104.79 L414.00 104.82 L416.00 104.85 L418.00 104.87 L420.00 104.90 L422.00 104.93 L424.00 104.96 L426.00 104.98 L428.00 105.01 L430.00 105.03 L432.00 105.06 L434.00 105.08 L436.00 105.11 L438.00 105.13 L440.00 105.16 L442.00 105.18 L444.00 105.20 L446.00 105.23 L448.00 105.25 L450.00 105.27 L452.00 105.29 L454.00 105.31 L456.00 105.34 L458.00 105.36 L460.00 105.38 L462.00 105.40 L464.00 105.42 L466.00 105.44 L468.00 105.46 L470.00 105.48 L472.00 105.50 L474.00 105.52 L476.00 105.54 L478.00 105.55 L480.00 105.57 L482.00 105.59 L484.00 105.61 L486.00 105.63 L488.00 105.64 L490.00 105.66 L492.00 105.68 L494.00 105.69 L496.00 105.71 L498.00 105.73 L500.00 105.74 L502.00 105.76 L504.00 105.78 L506.00 105.79 L508.00 105.81 L510.00 105.82 L512.00 105.84 L514.00 105.85 L516.00 105.87 L518.00 105.88 L520.00 105.90 L522.00 105.91 L524.00 105.92 L526.00 105.94 L528.00 105.95 L530.00 105.97 L532.00 105.98 L534.00 105.99 L536.00 106.00 L538.00 106.02 L540.00 106.03 L542.00 106.04 L544.00 106.06 L546.00 106.07 L548.00 106.08 L550.00 106.09 L552.00 106.10 L554.00 106.12 L556.00 106.13 L558.00 106.14 L560.00 106.15 L562.00 106.16 L564.00 106.17 L566.00 106.18 L568.00 106.20 L570.00 106.21 L572.00 106.22 L574.00 106.23 L576.00 106.24 L578.00 106.25 L580.00 106.26 L582.00 106.27 L584.00 106.28 L586.00 106.29 L588.00 106.30 L590.00 106.31 L592.00 106.32 L594.00 106.33 L596.00 106.34 L598.00 106.35 L600.00 106.35 L602.00 106.36 L604.00 106.37 L606.00 106.38 L608.00 106.39 L610.00 106.40 L612.00 106.41 L614.00 106.42 L616.00 106.42 L618.00 106.43 L620.00 106.44 L622.00 106.45 L624.00 106.46 L626.00 106.47 L628.00 106.47 L630.00 106.48 L632.00 106.49 L633.50 106.49" stroke="#000" stroke-width="3.7" fill="none" stroke-dasharray="14.82 14.82" stroke-dashoffset="29.14"/>
<path d="M84.50 328.50 L84.75 328.17 L85.00 327.47 L85.25 326.81 L85.50 326.31 L85.75 325.94 L86.00 325.64 L86.25 325.40 L86.50 325.18 L86.75 324.97 L87.00 324.77 L87.25 324.56 L87.50 324.35 L87.75 324.12 L88.00 323.89 L88.25 323.65 L88.50 323.39 L88.75 323.12 L89.00 322.84 L89.25 322.54 L89.50 322.23 L89.75 321.91 L90.00 321.57 L90.25 321.22 L90.50 320.85 L90.75 320.47 L91.00 320.08 L91.25 319.67 L91.50 319.25 L91.75 318.81 L92.00 318.36 L92.25 317.90 L92.50 317.42 L92.75 316.93 L93.00 316.43 L93.25 315.92 L93.50 315.39 L93.75 314.84 L94.00 314.29 L94.25 313.72 L94.50 313.14 L94.75 312.55 L95.00 311.94 L95.25 311.32 L95.50 310.70 L95.75 310.05 L96.00 309.40 L96.25 308.74 L96.50 308.06 L96.75 307.38 L97.00 306.68 L97.25 305.97 L97.50 305.25 L97.75 304.52 L98.00 303.78 L98.25 303.03 L98.50 302.28 L98.75 301.51 L99.00 300.73 L99.25 299.94 L99.50 299.14 L99.75 298.34 L100.00 297.52 L100.25 296.70 L100.50 295.86 L100.75 295.02 L101.00 294.18 L101.25 293.32 L101.50 292.45 L101.75 291.58 L102.00 290.70 L102.25 289.82 L102.50 288.92 L102.75 288.02 L103.00 287.12 L103.25 286.20 L103.50 285.28 L103.75 284.36 L104.00 283.43 L104.25 282.49 L104.50 281.55 L104.75 280.60 L105.00 279.64 L105.25 278.69 L105.50 277.72 L105.75 276.76 L106.00 275.78 L106.25 274.81 L106.50 273.83 L106.75 272.84 L107.00 271.85 L107.25 270.86 L107.50 269.86 L107.75 268.86 L108.00 267.86 L108.25 266.86 L108.50 265.85 L108.75 264.84 L109.00 263.82 L109.25 262.81 L109.50 261.79 L109.75 260.77 L110.00 259.75 L110.25 258.72 L110.50 257.70 L110.75 256.67 L111.00 255.64 L111.25 254.61 L111.50 253.58 L111.75 252.55 L112.00 251.52 L112.25 250.49 L112.50 249.45 L112.75 248.42 L113.00 247.39 L113.25 246.35 L113.50 245.32 L113.75 244.29 L114.00 243.25 L114.25 242.22 L114.50 241.19 L114.75 240.15 L115.00 239.12 L115.25 238.09 L115.50 237.06 L115.75 236.03 L116.00 235.00 L116.25 233.98 L116.50 232.95 L116.75 231.93 L117.00 230.91 L117.25 229.89 L117.50 228.87 L117.75 227.85 L118.00 226.84 L118.25 225.82 L118.50 224.81 L118.75 223.80 L119.00 222.80 L119.25 221.79 L119.50 220.79 L119.75 219.79 L120.00 218.79 L120.25 217.80 L120.50 216.81 L120.75 215.82 L121.00 214.83 L121.25 213.85 L121.50 212.87 L121.75 211.89 L122.00 210.92 L122.25 209.95 L122.50 208.98 L122.75 208.02 L123.00 207.05 L123.25 206.10 L123.50 205.14 L123.75 204.19 L124.00 203.25 L124.25 202.30 L124.50 201.36 L124.75 200.43 L125.00 199.49 L125.25 198.56 L125.50 197.64 L125.75 196.72 L126.00 195.80 L126.25 194.89 L126.50 193.98 L126.75 193.07 L127.00 192.17 L127.25 191.28 L127.50 190.38 L127.75 189.49 L128.00 188.61 L128.25 187.73 L128.50 186.85 L128.75 185.98 L129.00 185.11 L129.25 184.25 L129.50 183.39 L129.75 182.53 L130.00 181.68 L130.50 180.00 L131.00 178.33 L131.50 176.67 L132.00 175.04 L132.50 173.42 L133.00 171.82 L133.50 170.24 L134.00 168.68 L134.50 167.14 L135.00 165.61 L135.50 164.10 L136.00 162.61 L136.50 161.14 L137.00 159.69 L137.50 158.25 L138.00 156.84 L138.50 155.44 L139.00 154.06 L139.50 152.70 L140.00 151.36 L140.50 150.03 L141.00 148.72 L141.50 147.43 L142.00 146.16 L142.50 144.91 L143.00 143.67 L143.50 142.45 L144.00 141.25 L144.50 140.06 L145.00 138.89 L145.50 137.74 L146.00 136.61 L146.50 135.49 L147.00 134.39 L147.50 133.31 L148.00 132.24 L148.50 131.19 L149.00 130.15 L149.50 129.13 L150.00 128.13 L150.50 127.14 L151.00 126.17 L151.50 125.21 L152.00 124.27 L152.50 123.34 L153.00 122.43 L153.50 121.53 L154.00 120.65 L154.50 119.78 L155.00 118.93 L155.50 118.09 L156.00 117.26 L156.50 116.45 L157.00 115.65 L157.50 114.86 L158.00 114.09 L158.50 113.33 L159.00 112.58 L159.50 111.85 L160.00 111.13 L160.50 110.42 L161.00 109.72 L161.50 109.03 L162.00 108.36 L162.50 107.70 L163.00 107.05 L163.50 106.41 L164.00 105.78 L164.50 105.17 L165.00 104.56 L165.50 103.97 L166.00 103.38 L166.50 102.81 L167.00 102.25 L167.50 101.69 L168.00 101.15 L168.50 100.62 L169.00 100.09 L169.50 99.58 L170.00 99.08 L170.50 98.58 L171.00 98.09 L171.50 97.62 L172.00 97.15 L172.50 96.69 L173.00 96.24 L173.50 95.80 L174.00 95.36 L174.50 94.93 L175.00 94.52 L175.50 94.11 L176.00 93.70 L176.50 93.31 L177.00 92.92 L177.50 92.54 L178.00 92.17 L178.50 91.80 L179.00 91.44 L179.50 91.09 L180.00 90.75 L180.50 90.41 L181.00 90.08 L181.50 89.75 L182.00 89.43 L182.50 89.12 L183.00 88.81 L183.50 88.51 L184.00 88.21 L184.50 87.93 L185.00 87.64 L185.50 87.36 L186.00 87.09 L186.50 86.82 L187.00 86.56 L187.50 86.30 L188.00 86.05 L188.50 85.81 L189.00 85.56 L189.50 85.33 L190.00 85.10 L190.50 84.87 L191.00 84.65 L191.50 84.43 L192.00 84.21 L192.50 84.00 L193.00 83.80 L193.50 83.60 L194.00 83.40 L194.50 83.20 L195.00 83.02 L195.50 82.83 L196.00 82.65 L196.50 82.47 L197.00 82.30 L197.50 82.12 L198.00 81.96 L198.50 81.79 L199.00 81.63 L199.50 81.48 L200.00 81.32 L200.50 81.17 L201.00 81.02 L201.50 80.88 L202.00 80.74 L202.50 80.60 L203.00 80.46 L203.50 80.33 L204.00 80.20 L204.50 80.07 L205.00 79.95 L205.50 79.82 L206.00 79.70 L206.50 79.59 L207.00 79.47 L207.50 79.36 L208.00 79.25 L208.50 79.14 L209.00 79.04 L209.50 78.94 L210.00 78.83 L210.50 78.74 L211.00 78.64 L211.50 78.55 L212.00 78.45 L212.50 78.36 L213.00 78.27 L213.50 78.19 L214.00 78.10 L214.50 78.02 L215.00 77.94 L215.50 77.86 L216.00 77.78 L216.50 77.71 L217.00 77.63 L217.50 77.56 L218.00 77.49 L218.50 77.42 L219.00 77.35 L219.50 77.29 L220.00 77.22 L220.50 77.16 L221.00 77.10 L221.50 77.03 L222.00 76.98 L222.50 76.92 L223.00 76.86 L223.50 76.81 L224.00 76.75 L224.50 76.70 L225.00 76.65 L225.50 76.60 L226.00 76.55 L226.50 76.50 L227.00 76.45 L227.50 76.41 L228.00 76.36 L228.50 76.32 L229.00 76.28 L229.50 76.23 L230.00 76.19 L230.50 76.15 L231.00 76.11 L231.50 76.08 L232.00 76.04 L232.50 76.00 L233.00 75.97 L233.50 75.93 L234.00 75.90 L234.50 75.87 L235.00 75.83 L235.50 75.80 L236.00 75.77 L236.50 75.74 L237.00 75.71 L237.50 75.69 L238.00 75.66 L238.50 75.63 L239.00 75.61 L239.50 75.58 L240.00 75.56 L240.50 75.53 L241.00 75.51 L241.50 75.49 L242.00 75.46 L242.50 75.44 L243.00 75.42 L243.50 75.40 L244.00 75.38 L244.50 75.36 L245.00 75.34 L245.50 75.32 L246.00 75.31 L246.50 75.29 L247.00 75.27 L247.50 75.26 L248.00 75.24 L248.50 75.22 L249.00 75.21 L249.50 75.19 L250.00 75.18 L252.00 75.13 L254.00 75.08 L256.00 75.04 L258.00 75.01 L260.00 74.98 L262.00 74.95 L264.00 74.93 L266.00 74.91 L268.00 74.90 L270.00 74.89 L272.00 74.88 L274.00 74.88 L276.00 74.87 L278.00 74.87 L280.00 74.88 L282.00 74.88 L284.00 74.88 L286.00 74.89 L288.00 74.90 L290.00 74.91 L292.00 74.92 L294.00 74.93 L296.00 74.94 L298.00 74.96 L300.00 74.97 L302.00 74.99 L304.00 75.00 L306.00 75.02 L308.00 75.04 L310.00 75.05 L312.00 75.07 L314.00 75.09 L316.00 75.11 L318.00 75.13 L320.00 75.15 L322.00 75.16 L324.00 75.18 L326.00 75.20 L328.00 75.22 L330.00 75.24 L332.00 75.26 L334.00 75.28 L336.00 75.30 L338.00 75.32 L340.00 75.34 L342.00 75.36 L344.00 75.38 L346.00 75.40 L348.00 75.42 L350.00 75.43 L352.00 75.45 L354.00 75.47 L356.00 75.49 L358.00 75.51 L360.00 75.53 L362.00 75.55 L364.00 75.56 L366.00 75.58 L368.00 75.60 L370.00 75.62 L372.00 75.63 L374.00 75.65 L376.00 75.67 L378.00 75.69 L380.00 75.70 L382.00 75.72 L384.00 75.74 L386.00 75.75 L388.00 75.77 L390.00 75.78 L392.00 75.80 L394.00 75.81 L396.00 75.83 L398.00 75.85 L400.00 75.86 L402.00 75.88 L404.00 75.89 L406.00 75.90 L408.00 75.92 L410.00 75.93 L412.00 75.95 L414.00 75.96 L416.00 75.97 L418.00 75.99 L420.00 76.00 L422.00 76.01 L424.00 76.03 L426.00 76.04 L428.00 76.05 L430.00 76.06 L432.00 76.08 L434.00 76.09 L436.00 76.10 L438.00 76.11 L440.00 76.12 L442.00 76.14 L444.00 76.15 L446.00 76.16 L448.00 76.17 L450.00 76.18 L452.00 76.19 L454.00 76.20 L456.00 76.21 L458.00 76.22 L460.00 76.23 L462.00 76.24 L464.00 76.25 L466.00 76.26 L468.00 76.27 L470.00 76.28 L472.00 76.29 L474.00 76.30 L476.00 76.31 L478.00 76.32 L480.00 76.33 L482.00 76.34 L484.00 76.35 L486.00 76.36 L488.00 76.37 L490.00 76.37 L492.00 76.38 L494.00 76.39 L496.00 76.40 L498.00 76.41 L500.00 76.42 L502.00 76.42 L504.00 76.43 L506.00 76.44 L508.00 76.45 L510.00 76.45 L512.00 76.46 L514.00 76.47 L516.00 76.48 L518.00 76.48 L520.00 76.49 L522.00 76.50 L524.00 76.51 L526.00 76.51 L528.00 76.52 L530.00 76.53 L532.00 76.53 L534.00 76.54 L536.00 76.55 L538.00 76.55 L540.00 76.56 L542.00 76.56 L544.00 76.57 L546.00 76.58 L548.00 76.58 L550.00 76.59 L552.00 76.60 L554.00 76.60 L556.00 76.61 L558.00 76.61 L560.00 76.62 L562.00 76.62 L564.00 76.63 L566.00 76.63 L568.00 76.64 L570.00 76.65 L572.00 76.65 L574.00 76.66 L576.00 76.66 L578.00 76.67 L580.00 76.67 L582.00 76.68 L584.00 76.68 L586.00 76.69 L588.00 76.69 L590.00 76.70 L592.00 76.70 L594.00 76.71 L596.00 76.71 L598.00 76.72 L600.00 76.72 L602.00 76.72 L604.00 76.73 L606.00 76.73 L608.00 76.74 L610.00 76.74 L612.00 76.75 L614.00 76.75 L616.00 76.75 L618.00 76.76 L620.00 76.76 L622.00 76.77 L624.00 76.77 L626.00 76.78 L628.00 76.78 L630.00 76.78 L632.00 76.79 L633.50 76.79" stroke="#000" stroke-width="3.7" fill="none"/>
<path d="M84.50 328.50 L84.75 328.36 L85.00 327.93 L85.25 327.25 L85.50 326.35 L85.75 325.27 L86.00 324.06 L86.25 322.76 L86.50 321.41 L86.75 320.03 L87.00 318.66 L87.25 317.31 L87.50 315.99 L87.75 314.71 L88.00 313.48 L88.25 312.29 L88.50 311.15 L88.75 310.04 L89.00 308.97 L89.25 307.94 L89.50 306.93 L89.75 305.95 L90.00 304.99 L90.25 304.05 L90.50 303.13 L90.75 302.22 L91.00 301.31 L91.25 300.41 L91.50 299.52 L91.75 298.63 L92.00 297.74 L92.25 296.84 L92.50 295.95 L92.75 295.05 L93.00 294.15 L93.25 293.23 L93.50 292.32 L93.75 291.39 L94.00 290.46 L94.25 289.52 L94.50 288.57 L94.75 287.61 L95.00 286.64 L95.25 285.65 L95.50 284.66 L95.75 283.66 L96.00 282.65 L96.25 281.63 L96.50 280.60 L96.75 279.56 L97.00 278.51 L97.25 277.44 L97.50 276.37 L97.75 275.29 L98.00 274.20 L98.25 273.10 L98.50 271.99 L98.75 270.88 L99.00 269.75 L99.25 268.62 L99.50 267.48 L99.75 266.33 L100.00 265.17 L100.25 264.01 L100.50 262.84 L100.75 261.67 L101.00 260.49 L101.25 259.31 L101.50 258.12 L101.75 256.93 L102.00 255.73 L102.25 254.53 L102.50 253.33 L102.75 252.13 L103.00 250.92 L103.25 249.71 L103.50 248.50 L103.75 247.29 L104.00 246.08 L104.25 244.87 L104.50 243.67 L104.75 242.46 L105.00 241.25 L105.25 240.05 L105.50 238.85 L105.75 237.65 L106.00 236.45 L106.25 235.26 L106.50 234.07 L106.75 232.88 L107.00 231.70 L107.25 230.53 L107.50 229.36 L107.75 228.19 L108.00 227.04 L108.25 225.88 L108.50 224.74 L108.75 223.60 L109.00 222.47 L109.25 221.35 L109.50 220.23 L109.75 219.12 L110.00 218.02 L110.25 216.93 L110.50 215.85 L110.75 214.77 L111.00 213.71 L111.25 212.65 L111.50 211.61 L111.75 210.57 L112.00 209.54 L112.25 208.53 L112.50 207.52 L112.75 206.52 L113.00 205.54 L113.25 204.56 L113.50 203.59 L113.75 202.64 L114.00 201.69 L114.25 200.76 L114.50 199.84 L114.75 198.93 L115.00 198.03 L115.25 197.14 L115.50 196.26 L115.75 195.39 L116.00 194.53 L116.25 193.69 L116.50 192.85 L116.75 192.03 L117.00 191.21 L117.25 190.41 L117.50 189.62 L117.75 188.84 L118.00 188.07 L118.25 187.31 L118.50 186.57 L118.75 185.83 L119.00 185.10 L119.25 184.39 L119.50 183.68 L119.75 182.99 L120.00 182.31 L120.25 181.63 L120.50 180.97 L120.75 180.32 L121.00 179.67 L121.25 179.04 L121.50 178.42 L121.75 177.80 L122.00 177.20 L122.25 176.61 L122.50 176.02 L122.75 175.45 L123.00 174.88 L123.25 174.33 L123.50 173.78 L123.75 173.24 L124.00 172.71 L124.25 172.19 L124.50 171.68 L124.75 171.18 L125.00 170.68 L125.25 170.19 L125.50 169.72 L125.75 169.25 L126.00 168.78 L126.25 168.33 L126.50 167.89 L126.75 167.45 L127.00 167.02 L127.25 166.59 L127.50 166.18 L127.75 165.77 L128.00 165.37 L128.25 164.97 L128.50 164.59 L128.75 164.21 L129.00 163.83 L129.25 163.46 L129.50 163.10 L129.75 162.75 L130.00 162.40 L130.50 161.72 L131.00 161.07 L131.50 160.44 L132.00 159.83 L132.50 159.25 L133.00 158.69 L133.50 158.14 L134.00 157.62 L134.50 157.11 L135.00 156.63 L135.50 156.16 L136.00 155.71 L136.50 155.27 L137.00 154.85 L137.50 154.45 L138.00 154.06 L138.50 153.68 L139.00 153.32 L139.50 152.97 L140.00 152.64 L140.50 152.31 L141.00 152.00 L141.50 151.70 L142.00 151.42 L142.50 151.14 L143.00 150.87 L143.50 150.61 L144.00 150.36 L144.50 150.12 L145.00 149.89 L145.50 149.67 L146.00 149.46 L146.50 149.25 L147.00 149.05 L147.50 148.86 L148.00 148.68 L148.50 148.50 L149.00 148.33 L149.50 148.17 L150.00 148.01 L150.50 147.86 L151.00 147.71 L151.50 147.57 L152.00 147.43 L152.50 147.30 L153.00 147.18 L153.50 147.06 L154.00 146.94 L154.50 146.83 L155.00 146.72 L155.50 146.61 L156.00 146.51 L156.50 146.42 L157.00 146.33 L157.50 146.24 L158.00 146.15 L158.50 146.07 L159.00 145.99 L159.50 145.91 L160.00 145.84 L160.50 145.77 L161.00 145.70 L161.50 145.63 L162.00 145.57 L162.50 145.51 L163.00 145.45 L163.50 145.39 L164.00 145.34 L164.50 145.29 L165.00 145.24 L165.50 145.19 L166.00 145.15 L166.50 145.10 L167.00 145.06 L167.50 145.02 L168.00 144.98 L168.50 144.94 L169.00 144.91 L169.50 144.87 L170.00 144.84 L170.50 144.81 L171.00 144.78 L171.50 144.75 L172.00 144.72 L172.50 144.70 L173.00 144.67 L173.50 144.65 L174.00 144.62 L174.50 144.60 L175.00 144.58 L175.50 144.56 L176.00 144.54 L176.50 144.53 L177.00 144.51 L177.50 144.49 L178.00 144.48 L178.50 144.46 L179.00 144.45 L179.50 144.43 L180.00 144.42 L180.50 144.41 L181.00 144.40 L181.50 144.39 L182.00 144.38 L182.50 144.37 L183.00 144.36 L183.50 144.35 L184.00 144.35 L184.50 144.34 L185.00 144.33 L185.50 144.33 L186.00 144.32 L186.50 144.32 L187.00 144.31 L187.50 144.31 L188.00 144.30 L188.50 144.30 L189.00 144.30 L189.50 144.29 L190.00 144.29 L190.50 144.29 L191.00 144.29 L191.50 144.29 L192.00 144.29 L192.50 144.29 L193.00 144.29 L193.50 144.28 L194.00 144.29 L194.50 144.29 L195.00 144.29 L195.50 144.29 L196.00 144.29 L196.50 144.29 L197.00 144.29 L197.50 144.29 L198.00 144.30 L198.50 144.30 L199.00 144.30 L199.50 144.30 L200.00 144.31 L200.50 144.31 L201.00 144.31 L201.50 144.32 L202.00 144.32 L202.50 144.32 L203.00 144.33 L203.50 144.33 L204.00 144.33 L204.50 144.34 L205.00 144.34 L205.50 144.35 L206.00 144.35 L206.50 144.36 L207.00 144.36 L207.50 144.37 L208.00 144.37 L208.50 144.38 L209.00 144.38 L209.50 144.39 L210.00 144.39 L210.50 144.40 L211.00 144.40 L211.50 144.41 L212.00 144.41 L212.50 144.42 L213.00 144.42 L213.50 144.43 L214.00 144.44 L214.50 144.44 L215.00 144.45 L215.50 144.45 L216.00 144.46 L216.50 144.47 L217.00 144.47 L217.50 144.48 L218.00 144.49 L218.50 144.49 L219.00 144.50 L219.50 144.50 L220.00 144.51 L220.50 144.52 L221.00 144.52 L221.50 144.53 L222.00 144.54 L222.50 144.54 L223.00 144.55 L223.50 144.56 L224.00 144.56 L224.50 144.57 L225.00 144.57 L225.50 144.58 L226.00 144.59 L226.50 144.59 L227.00 144.60 L227.50 144.61 L228.00 144.61 L228.50 144.62 L229.00 144.63 L229.50 144.63 L230.00 144.64 L230.50 144.65 L231.00 144.65 L231.50 144.66 L232.00 144.67 L232.50 144.67 L233.00 144.68 L233.50 144.69 L234.00 144.69 L234.50 144.70 L235.00 144.71 L235.50 144.71 L236.00 144.72 L236.50 144.73 L237.00 144.73 L237.50 144.74 L238.00 144.75 L238.50 144.75 L239.00 144.76 L239.50 144.77 L240.00 144.77 L240.50 144.78 L241.00 144.79 L241.50 144.79 L242.00 144.80 L242.50 144.81 L243.00 144.81 L243.50 144.82 L244.00 144.82 L244.50 144.83 L245.00 144.84 L245.50 144.84 L246.00 144.85 L246.50 144.86 L247.00 144.86 L247.50 144.87 L248.00 144.88 L248.50 144.88 L249.00 144.89 L249.50 144.89 L250.00 144.90 L252.00 144.92 L254.00 144.95 L256.00 144.97 L258.00 145.00 L260.00 145.02 L262.00 145.04 L264.00 145.07 L266.00 145.09 L268.00 145.11 L270.00 145.13 L272.00 145.15 L274.00 145.17 L276.00 145.20 L278.00 145.22 L280.00 145.24 L282.00 145.26 L284.00 145.27 L286.00 145.29 L288.00 145.31 L290.00 145.33 L292.00 145.35 L294.00 145.37 L296.00 145.38 L298.00 145.40 L300.00 145.42 L302.00 145.43 L304.00 145.45 L306.00 145.47 L308.00 145.48 L310.00 145.50 L312.00 145.51 L314.00 145.53 L316.00 145.54 L318.00 145.56 L320.00 145.57 L322.00 145.58 L324.00 145.60 L326.00 145.61 L328.00 145.62 L330.00 145.64 L332.00 145.65 L334.00 145.66 L336.00 145.67 L338.00 145.68 L340.00 145.70 L342.00 145.71 L344.00 145.72 L346.00 145.73 L348.00 145.74 L350.00 145.75 L352.00 145.76 L354.00 145.77 L356.00 145.78 L358.00 145.79 L360.00 145.80 L362.00 145.81 L364.00 145.82 L366.00 145.83 L368.00 145.84 L370.00 145.85 L372.00 145.86 L374.00 145.87 L376.00 145.88 L378.00 145.88 L380.00 145.89 L382.00 145.90 L384.00 145.91 L386.00 145.92 L388.00 145.92 L390.00 145.93 L392.00 145.94 L394.00 145.95 L396.00 145.95 L398.00 145.96 L400.00 145.97 L402.00 145.98 L404.00 145.98 L406.00 145.99 L408.00 146.00 L410.00 146.00 L412.00 146.01 L414.00 146.01 L416.00 146.02 L418.00 146.03 L420.00 146.03 L422.00 146.04 L424.00 146.05 L426.00 146.05 L428.00 146.06 L430.00 146.06 L432.00 146.07 L434.00 146.07 L436.00 146.08 L438.00 146.08 L440.00 146.09 L442.00 146.09 L444.00 146.10 L446.00 146.10 L448.00 146.11 L450.00 146.11 L452.00 146.12 L454.00 146.12 L456.00 146.13 L458.00 146.13 L460.00 146.14 L462.00 146.14 L464.00 146.15 L466.00 146.15 L468.00 146.15 L470.00 146.16 L472.00 146.16 L474.00 146.17 L476.00 146.17 L478.00 146.18 L480.00 146.18 L482.00 146.18 L484.00 146.19 L486.00 146.19 L488.00 146.19 L490.00 146.20 L492.00 146.20 L494.00 146.21 L496.00 146.21 L498.00 146.21 L500.00 146.22 L502.00 146.22 L504.00 146.22 L506.00 146.23 L508.00 146.23 L510.00 146.23 L512.00 146.24 L514.00 146.24 L516.00 146.24 L518.00 146.24 L520.00 146.25 L522.00 146.25 L524.00 146.25 L526.00 146.26 L528.00 146.26 L530.00 146.26 L532.00 146.27 L534.00 146.27 L536.00 146.27 L538.00 146.27 L540.00 146.28 L542.00 146.28 L544.00 146.28 L546.00 146.28 L548.00 146.29 L550.00 146.29 L552.00 146.29 L554.00 146.29 L556.00 146.30 L558.00 146.30 L560.00 146.30 L562.00 146.30 L564.00 146.31 L566.00 146.31 L568.00 146.31 L570.00 146.31 L572.00 146.31 L574.00 146.32 L576.00 146.32 L578.00 146.32 L580.00 146.32 L582.00 146.33 L584.00 146.33 L586.00 146.33 L588.00 146.33 L590.00 146.33 L592.00 146.34 L594.00 146.34 L596.00 146.34 L598.00 146.34 L600.00 146.34 L602.00 146.35 L604.00 146.35 L606.00 146.35 L608.00 146.35 L610.00 146.35 L612.00 146.35 L614.00 146.36 L616.00 146.36 L618.00 146.36 L620.00 146.36 L622.00 146.36 L624.00 146.36 L626.00 146.37 L628.00 146.37 L630.00 146.37 L632.00 146.37 L633.50 146.37" stroke="#000" stroke-width="1.2" fill="none"/>
</g>
<rect x="84.5" y="13.0" width="549.0" height="315.5" fill="none" stroke="#262626" stroke-width="1"/>
<path d="M84.50 328.5v-5.5M84.50 13.0v5.5M267.50 328.5v-5.5M267.50 13.0v5.5M450.50 328.5v-5.5M450.50 13.0v5.5M633.50 328.5v-5.5M633.50 13.0v5.5M84.5 328.50h5.5M633.5 328.50h-5.5M84.5 265.40h5.5M633.5 265.40h-5.5M84.5 202.30h5.5M633.5 202.30h-5.5M84.5 139.20h5.5M633.5 139.20h-5.5M84.5 76.10h5.5M633.5 76.10h-5.5M84.5 13.00h5.5M633.5 13.00h-5.5" stroke="#262626" stroke-width="1" fill="none"/>
<g transform="translate(84.50 360.80) scale(1.1 1)"><text font-size="24.3" text-anchor="middle" fill="#262626" stroke="#262626" stroke-width="0.1">0</text></g>
<g transform="translate(267.50 360.80) scale(1.1 1)"><text font-size="24.3" text-anchor="middle" fill="#262626" stroke="#262626" stroke-width="0.1">5</text></g>
<g transform="translate(450.50 360.80) scale(1.1 1)"><text font-size="24.3" text-anchor="middle" fill="#262626" stroke="#262626" stroke-width="0.1">10</text></g>
<g transform="translate(633.50 360.80) scale(1.1 1)"><text font-size="24.3" text-anchor="middle" fill="#262626" stroke="#262626" stroke-width="0.1">15</text></g>
<g transform="translate(75.90 337.00) scale(1.1 1)"><text font-size="24.3" text-anchor="end" fill="#262626" stroke="#262626" stroke-width="0.1">0</text></g>
<g transform="translate(75.90 273.90) scale(1.1 1)"><text font-size="24.3" text-anchor="end" fill="#262626" stroke="#262626" stroke-width="0.1">0.2</text></g>
<g transform="translate(75.90 210.80) scale(1.1 1)"><text font-size="24.3" text-anchor="end" fill="#262626" stroke="#262626" stroke-width="0.1">0.4</text></g>
<g transform="translate(75.90 147.70) scale(1.1 1)"><text font-size="24.3" text-anchor="end" fill="#262626" stroke="#262626" stroke-width="0.1">0.6</text></g>
<g transform="translate(75.90 84.60) scale(1.1 1)"><text font-size="24.3" text-anchor="end" fill="#262626" stroke="#262626" stroke-width="0.1">0.8</text></g>
<g transform="translate(75.90 21.50) scale(1.1 1)"><text font-size="24.3" text-anchor="end" fill="#262626" stroke="#262626" stroke-width="0.1">1</text></g>
<g transform="translate(19.20 260.80) rotate(-90) scale(1.053 1)"><text font-size="27.5" text-anchor="start" fill="#262626" stroke="#262626" stroke-width="0.15">DEM/DEM</text></g>
<g transform="translate(33.30 121.40) rotate(-90) scale(1.23 1)"><text font-size="19.5" text-anchor="start" fill="#262626" stroke="#262626" stroke-width="0.15">max</text></g>
<g transform="translate(330.00 395.30) scale(1.02 1)"><text font-size="27.5" text-anchor="start" fill="#262626" stroke="#262626" stroke-width="0.15">Ω/Γ</text></g>
<g transform="translate(376.00 408.10) scale(1.17 1)"><text font-size="20.6" text-anchor="start" fill="#262626" stroke="#262626" stroke-width="0.15">0</text></g>
<g transform="translate(3.00 23.50) scale(1.12 1)"><text font-size="24.5" text-anchor="start" fill="#111" stroke="#111" stroke-width="0.1" font-weight="bold">(a)</text></g>
<rect x="425.5" y="32.5" width="168.0" height="170.0" fill="#fff" stroke="#262626" stroke-width="1"/>
<path d="M429.0 47.9h36.9" stroke="#cbcbcb" stroke-width="3.7" fill="none"/>
<g transform="translate(468.70 55.60) scale(1.085 1)"><text font-size="23" text-anchor="start" fill="#262626" stroke="#262626" stroke-width="0.25">d = 10.4 nm</text></g>
<path d="M429.0 75.7h36.9" stroke="#000" stroke-width="3.7" fill="none" stroke-dasharray="14.70 4.20 5.10 3.90"/>
<g transform="translate(468.70 83.40) scale(1.085 1)"><text font-size="23" text-anchor="start" fill="#262626" stroke="#262626" stroke-width="0.25">d = 20.8 nm</text></g>
<path d="M429.0 103.5h36.9" stroke="#000" stroke-width="3.7" fill="none" stroke-dasharray="3.60 3.55"/>
<g transform="translate(468.70 111.20) scale(1.085 1)"><text font-size="23" text-anchor="start" fill="#262626" stroke="#262626" stroke-width="0.25">d = 31.2 nm</text></g>
<path d="M429.0 131.3h36.9" stroke="#000" stroke-width="3.7" fill="none" stroke-dasharray="14.70 15.20"/>
<g transform="translate(468.70 139.00) scale(1.085 1)"><text font-size="23" text-anchor="start" fill="#262626" stroke="#262626" stroke-width="0.25">d = 41.6 nm</text></g>
<path d="M429.0 159.1h36.9" stroke="#000" stroke-width="3.7" fill="none"/>
<g transform="translate(468.70 166.80) scale(1.085 1)"><text font-size="23" text-anchor="start" fill="#262626" stroke="#262626" stroke-width="0.25">d = 52 nm</text></g>
<path d="M429.0 186.9h36.9" stroke="#000" stroke-width="1.3" fill="none"/>
<g transform="translate(468.70 194.60) scale(1.085 1)"><text font-size="23" text-anchor="start" fill="#262626" stroke="#262626" stroke-width="0.25">d = <tspan font-size="28" dy="4.5" stroke="none">∞</tspan></text></g>
<clipPath id="cb"><rect x="84.0" y="500.3" width="551.3" height="319.2"/></clipPath>
<g clip-path="url(#cb)" stroke-linejoin="round">
<path d="M84.50 819.00 L84.75 818.99 L85.00 818.97 L85.25 818.94 L85.50 818.90 L85.75 818.84 L86.00 818.77 L86.25 818.69 L86.50 818.59 L86.75 818.48 L87.00 818.36 L87.25 818.23 L87.50 818.08 L87.75 817.92 L88.00 817.75 L88.25 817.57 L88.50 817.38 L88.75 817.17 L89.00 816.95 L89.25 816.72 L89.50 816.48 L89.75 816.23 L90.00 815.96 L90.25 815.69 L90.50 815.40 L90.75 815.10 L91.00 814.79 L91.25 814.47 L91.50 814.14 L91.75 813.80 L92.00 813.45 L92.25 813.09 L92.50 812.71 L92.75 812.33 L93.00 811.94 L93.25 811.54 L93.50 811.13 L93.75 810.71 L94.00 810.29 L94.25 809.85 L94.50 809.41 L94.75 808.95 L95.00 808.49 L95.25 808.02 L95.50 807.54 L95.75 807.06 L96.00 806.57 L96.25 806.07 L96.50 805.56 L96.75 805.05 L97.00 804.53 L97.25 804.00 L97.50 803.47 L97.75 802.93 L98.00 802.38 L98.25 801.83 L98.50 801.27 L98.75 800.71 L99.00 800.14 L99.25 799.57 L99.50 798.99 L99.75 798.41 L100.00 797.83 L100.25 797.24 L100.50 796.64 L100.75 796.04 L101.00 795.44 L101.25 794.83 L101.50 794.22 L101.75 793.61 L102.00 792.99 L102.25 792.37 L102.50 791.75 L102.75 791.13 L103.00 790.50 L103.25 789.87 L103.50 789.24 L103.75 788.60 L104.00 787.97 L104.25 787.33 L104.50 786.69 L104.75 786.05 L105.00 785.41 L105.25 784.76 L105.50 784.12 L105.75 783.47 L106.00 782.83 L106.25 782.18 L106.50 781.53 L106.75 780.88 L107.00 780.23 L107.25 779.58 L107.50 778.93 L107.75 778.28 L108.00 777.63 L108.25 776.98 L108.50 776.33 L108.75 775.68 L109.00 775.03 L109.25 774.38 L109.50 773.73 L109.75 773.08 L110.00 772.44 L110.25 771.79 L110.50 771.14 L110.75 770.50 L111.00 769.85 L111.25 769.21 L111.50 768.57 L111.75 767.93 L112.00 767.29 L112.25 766.65 L112.50 766.01 L112.75 765.37 L113.00 764.74 L113.25 764.11 L113.50 763.47 L113.75 762.84 L114.00 762.22 L114.25 761.59 L114.50 760.96 L114.75 760.34 L115.00 759.72 L115.25 759.10 L115.50 758.48 L115.75 757.86 L116.00 757.25 L116.25 756.64 L116.50 756.03 L116.75 755.42 L117.00 754.81 L117.25 754.21 L117.50 753.61 L117.75 753.01 L118.00 752.41 L118.25 751.81 L118.50 751.22 L118.75 750.63 L119.00 750.04 L119.25 749.45 L119.50 748.87 L119.75 748.29 L120.00 747.71 L120.25 747.13 L120.50 746.56 L120.75 745.98 L121.00 745.41 L121.25 744.84 L121.50 744.28 L121.75 743.72 L122.00 743.15 L122.25 742.60 L122.50 742.04 L122.75 741.49 L123.00 740.94 L123.25 740.39 L123.50 739.84 L123.75 739.30 L124.00 738.76 L124.25 738.22 L124.50 737.68 L124.75 737.15 L125.00 736.62 L125.25 736.09 L125.50 735.56 L125.75 735.04 L126.00 734.52 L126.25 734.00 L126.50 733.48 L126.75 732.97 L127.00 732.46 L127.25 731.95 L127.50 731.44 L127.75 730.94 L128.00 730.44 L128.25 729.94 L128.50 729.44 L128.75 728.95 L129.00 728.46 L129.25 727.97 L129.50 727.48 L129.75 727.00 L130.00 726.52 L130.50 725.57 L131.00 724.62 L131.50 723.69 L132.00 722.76 L132.50 721.85 L133.00 720.95 L133.50 720.05 L134.00 719.17 L134.50 718.30 L135.00 717.43 L135.50 716.58 L136.00 715.74 L136.50 714.90 L137.00 714.08 L137.50 713.27 L138.00 712.46 L138.50 711.67 L139.00 710.89 L139.50 710.11 L140.00 709.35 L140.50 708.60 L141.00 707.85 L141.50 707.12 L142.00 706.39 L142.50 705.68 L143.00 704.98 L143.50 704.28 L144.00 703.60 L144.50 702.92 L145.00 702.25 L145.50 701.60 L146.00 700.95 L146.50 700.31 L147.00 699.68 L147.50 699.07 L148.00 698.46 L148.50 697.86 L149.00 697.27 L149.50 696.69 L150.00 696.12 L150.50 695.55 L151.00 695.00 L151.50 694.46 L152.00 693.92 L152.50 693.40 L153.00 692.88 L153.50 692.37 L154.00 691.88 L154.50 691.39 L155.00 690.91 L155.50 690.43 L156.00 689.97 L156.50 689.52 L157.00 689.07 L157.50 688.63 L158.00 688.20 L158.50 687.78 L159.00 687.37 L159.50 686.97 L160.00 686.57 L160.50 686.19 L161.00 685.81 L161.50 685.44 L162.00 685.07 L162.50 684.72 L163.00 684.37 L163.50 684.03 L164.00 683.70 L164.50 683.37 L165.00 683.06 L165.50 682.75 L166.00 682.45 L166.50 682.15 L167.00 681.86 L167.50 681.58 L168.00 681.31 L168.50 681.04 L169.00 680.78 L169.50 680.53 L170.00 680.28 L170.50 680.04 L171.00 679.81 L171.50 679.58 L172.00 679.36 L172.50 679.15 L173.00 678.94 L173.50 678.74 L174.00 678.54 L174.50 678.35 L175.00 678.16 L175.50 677.98 L176.00 677.81 L176.50 677.64 L177.00 677.48 L177.50 677.32 L178.00 677.17 L178.50 677.02 L179.00 676.88 L179.50 676.75 L180.00 676.61 L180.50 676.49 L181.00 676.37 L181.50 676.25 L182.00 676.13 L182.50 676.03 L183.00 675.92 L183.50 675.82 L184.00 675.73 L184.50 675.63 L185.00 675.55 L185.50 675.46 L186.00 675.38 L186.50 675.31 L187.00 675.24 L187.50 675.17 L188.00 675.10 L188.50 675.04 L189.00 674.98 L189.50 674.93 L190.00 674.88 L190.50 674.83 L191.00 674.79 L191.50 674.75 L192.00 674.71 L192.50 674.67 L193.00 674.64 L193.50 674.61 L194.00 674.58 L194.50 674.56 L195.00 674.54 L195.50 674.52 L196.00 674.50 L196.50 674.49 L197.00 674.47 L197.50 674.47 L198.00 674.46 L198.50 674.45 L199.00 674.45 L199.50 674.45 L200.00 674.45 L200.50 674.46 L201.00 674.46 L201.50 674.47 L202.00 674.48 L202.50 674.49 L203.00 674.50 L203.50 674.52 L204.00 674.53 L204.50 674.55 L205.00 674.57 L205.50 674.59 L206.00 674.61 L206.50 674.64 L207.00 674.66 L207.50 674.69 L208.00 674.72 L208.50 674.75 L209.00 674.78 L209.50 674.81 L210.00 674.84 L210.50 674.88 L211.00 674.91 L211.50 674.95 L212.00 674.98 L212.50 675.02 L213.00 675.06 L213.50 675.10 L214.00 675.14 L214.50 675.19 L215.00 675.23 L215.50 675.27 L216.00 675.32 L216.50 675.36 L217.00 675.41 L217.50 675.45 L218.00 675.50 L218.50 675.55 L219.00 675.60 L219.50 675.65 L220.00 675.70 L220.50 675.75 L221.00 675.80 L221.50 675.85 L222.00 675.90 L222.50 675.96 L223.00 676.01 L223.50 676.06 L224.00 676.12 L224.50 676.17 L225.00 676.23 L225.50 676.28 L226.00 676.34 L226.50 676.39 L227.00 676.45 L227.50 676.51 L228.00 676.56 L228.50 676.62 L229.00 676.68 L229.50 676.73 L230.00 676.79 L230.50 676.85 L231.00 676.91 L231.50 676.97 L232.00 677.03 L232.50 677.08 L233.00 677.14 L233.50 677.20 L234.00 677.26 L234.50 677.32 L235.00 677.38 L235.50 677.44 L236.00 677.50 L236.50 677.56 L237.00 677.62 L237.50 677.68 L238.00 677.74 L238.50 677.80 L239.00 677.86 L239.50 677.92 L240.00 677.98 L240.50 678.04 L241.00 678.10 L241.50 678.16 L242.00 678.22 L242.50 678.28 L243.00 678.34 L243.50 678.40 L244.00 678.46 L244.50 678.52 L245.00 678.58 L245.50 678.64 L246.00 678.70 L246.50 678.76 L247.00 678.82 L247.50 678.87 L248.00 678.93 L248.50 678.99 L249.00 679.05 L249.50 679.11 L250.00 679.17 L252.00 679.40 L254.00 679.64 L256.00 679.87 L258.00 680.09 L260.00 680.32 L262.00 680.54 L264.00 680.76 L266.00 680.98 L268.00 681.19 L270.00 681.40 L272.00 681.61 L274.00 681.81 L276.00 682.01 L278.00 682.21 L280.00 682.40 L282.00 682.60 L284.00 682.78 L286.00 682.97 L288.00 683.15 L290.00 683.33 L292.00 683.50 L294.00 683.67 L296.00 683.84 L298.00 684.01 L300.00 684.17 L302.00 684.33 L304.00 684.49 L306.00 684.64 L308.00 684.79 L310.00 684.94 L312.00 685.09 L314.00 685.23 L316.00 685.37 L318.00 685.51 L320.00 685.65 L322.00 685.78 L324.00 685.91 L326.00 686.04 L328.00 686.17 L330.00 686.29 L332.00 686.41 L334.00 686.53 L336.00 686.65 L338.00 686.76 L340.00 686.88 L342.00 686.99 L344.00 687.10 L346.00 687.20 L348.00 687.31 L350.00 687.41 L352.00 687.52 L354.00 687.62 L356.00 687.71 L358.00 687.81 L360.00 687.91 L362.00 688.00 L364.00 688.09 L366.00 688.18 L368.00 688.27 L370.00 688.36 L372.00 688.44 L374.00 688.53 L376.00 688.61 L378.00 688.69 L380.00 688.78 L382.00 688.85 L384.00 688.93 L386.00 689.01 L388.00 689.09 L390.00 689.16 L392.00 689.23 L394.00 689.31 L396.00 689.38 L398.00 689.45 L400.00 689.52 L402.00 689.58 L404.00 689.65 L406.00 689.72 L408.00 689.78 L410.00 689.85 L412.00 689.91 L414.00 689.97 L416.00 690.03 L418.00 690.10 L420.00 690.16 L422.00 690.21 L424.00 690.27 L426.00 690.33 L428.00 690.39 L430.00 690.44 L432.00 690.50 L434.00 690.55 L436.00 690.61 L438.00 690.66 L440.00 690.71 L442.00 690.76 L444.00 690.81 L446.00 690.87 L448.00 690.92 L450.00 690.96 L452.00 691.01 L454.00 691.06 L456.00 691.11 L458.00 691.16 L460.00 691.20 L462.00 691.25 L464.00 691.29 L466.00 691.34 L468.00 691.38 L470.00 691.43 L472.00 691.47 L474.00 691.51 L476.00 691.55 L478.00 691.60 L480.00 691.64 L482.00 691.68 L484.00 691.72 L486.00 691.76 L488.00 691.80 L490.00 691.84 L492.00 691.88 L494.00 691.92 L496.00 691.96 L498.00 691.99 L500.00 692.03 L502.00 692.07 L504.00 692.10 L506.00 692.14 L508.00 692.18 L510.00 692.21 L512.00 692.25 L514.00 692.28 L516.00 692.32 L518.00 692.35 L520.00 692.39 L522.00 692.42 L524.00 692.45 L526.00 692.49 L528.00 692.52 L530.00 692.55 L532.00 692.59 L534.00 692.62 L536.00 692.65 L538.00 692.68 L540.00 692.71 L542.00 692.74 L544.00 692.78 L546.00 692.81 L548.00 692.84 L550.00 692.87 L552.00 692.90 L554.00 692.93 L556.00 692.96 L558.00 692.99 L560.00 693.02 L562.00 693.05 L564.00 693.07 L566.00 693.10 L568.00 693.13 L570.00 693.16 L572.00 693.19 L574.00 693.22 L576.00 693.24 L578.00 693.27 L580.00 693.30 L582.00 693.33 L584.00 693.35 L586.00 693.38 L588.00 693.41 L590.00 693.43 L592.00 693.46 L594.00 693.49 L596.00 693.51 L598.00 693.54 L600.00 693.56 L602.00 693.59 L604.00 693.62 L606.00 693.64 L608.00 693.67 L610.00 693.69 L612.00 693.72 L614.00 693.74 L616.00 693.77 L618.00 693.79 L620.00 693.82 L622.00 693.84 L624.00 693.86 L626.00 693.89 L628.00 693.91 L630.00 693.94 L632.00 693.96 L633.50 693.98" stroke="#cbcbcb" stroke-width="3.7" fill="none"/>
<path d="M84.50 819.00 L84.75 818.99 L85.00 818.96 L85.25 818.91 L85.50 818.84 L85.75 818.75 L86.00 818.63 L86.25 818.50 L86.50 818.35 L86.75 818.17 L87.00 817.98 L87.25 817.76 L87.50 817.53 L87.75 817.27 L88.00 816.99 L88.25 816.69 L88.50 816.37 L88.75 816.02 L89.00 815.66 L89.25 815.27 L89.50 814.86 L89.75 814.42 L90.00 813.97 L90.25 813.49 L90.50 812.99 L90.75 812.46 L91.00 811.92 L91.25 811.35 L91.50 810.75 L91.75 810.13 L92.00 809.49 L92.25 808.83 L92.50 808.14 L92.75 807.43 L93.00 806.70 L93.25 805.94 L93.50 805.16 L93.75 804.36 L94.00 803.53 L94.25 802.68 L94.50 801.81 L94.75 800.92 L95.00 800.00 L95.25 799.07 L95.50 798.11 L95.75 797.13 L96.00 796.13 L96.25 795.11 L96.50 794.07 L96.75 793.02 L97.00 791.94 L97.25 790.85 L97.50 789.74 L97.75 788.61 L98.00 787.47 L98.25 786.31 L98.50 785.13 L98.75 783.95 L99.00 782.75 L99.25 781.53 L99.50 780.31 L99.75 779.07 L100.00 777.83 L100.25 776.58 L100.50 775.31 L100.75 774.04 L101.00 772.77 L101.25 771.48 L101.50 770.20 L101.75 768.90 L102.00 767.61 L102.25 766.31 L102.50 765.01 L102.75 763.71 L103.00 762.41 L103.25 761.11 L103.50 759.81 L103.75 758.51 L104.00 757.22 L104.25 755.93 L104.50 754.64 L104.75 753.36 L105.00 752.08 L105.25 750.81 L105.50 749.55 L105.75 748.29 L106.00 747.04 L106.25 745.80 L106.50 744.57 L106.75 743.34 L107.00 742.13 L107.25 740.93 L107.50 739.74 L107.75 738.55 L108.00 737.38 L108.25 736.22 L108.50 735.08 L108.75 733.94 L109.00 732.82 L109.25 731.71 L109.50 730.61 L109.75 729.53 L110.00 728.46 L110.25 727.40 L110.50 726.36 L110.75 725.32 L111.00 724.31 L111.25 723.30 L111.50 722.31 L111.75 721.34 L112.00 720.38 L112.25 719.43 L112.50 718.49 L112.75 717.57 L113.00 716.67 L113.25 715.77 L113.50 714.89 L113.75 714.03 L114.00 713.18 L114.25 712.34 L114.50 711.51 L114.75 710.70 L115.00 709.90 L115.25 709.12 L115.50 708.34 L115.75 707.58 L116.00 706.84 L116.25 706.10 L116.50 705.38 L116.75 704.67 L117.00 703.97 L117.25 703.29 L117.50 702.61 L117.75 701.95 L118.00 701.30 L118.25 700.66 L118.50 700.03 L118.75 699.42 L119.00 698.81 L119.25 698.22 L119.50 697.63 L119.75 697.06 L120.00 696.49 L120.25 695.94 L120.50 695.40 L120.75 694.86 L121.00 694.34 L121.25 693.82 L121.50 693.32 L121.75 692.82 L122.00 692.33 L122.25 691.85 L122.50 691.38 L122.75 690.92 L123.00 690.47 L123.25 690.02 L123.50 689.59 L123.75 689.16 L124.00 688.74 L124.25 688.32 L124.50 687.92 L124.75 687.52 L125.00 687.13 L125.25 686.74 L125.50 686.37 L125.75 685.99 L126.00 685.63 L126.25 685.27 L126.50 684.92 L126.75 684.58 L127.00 684.24 L127.25 683.91 L127.50 683.58 L127.75 683.26 L128.00 682.95 L128.25 682.64 L128.50 682.33 L128.75 682.04 L129.00 681.74 L129.25 681.46 L129.50 681.17 L129.75 680.90 L130.00 680.62 L130.50 680.09 L131.00 679.58 L131.50 679.09 L132.00 678.61 L132.50 678.15 L133.00 677.71 L133.50 677.28 L134.00 676.86 L134.50 676.46 L135.00 676.08 L135.50 675.70 L136.00 675.34 L136.50 674.99 L137.00 674.66 L137.50 674.33 L138.00 674.02 L138.50 673.71 L139.00 673.42 L139.50 673.13 L140.00 672.86 L140.50 672.59 L141.00 672.33 L141.50 672.08 L142.00 671.84 L142.50 671.61 L143.00 671.38 L143.50 671.17 L144.00 670.95 L144.50 670.75 L145.00 670.55 L145.50 670.36 L146.00 670.17 L146.50 669.99 L147.00 669.82 L147.50 669.65 L148.00 669.48 L148.50 669.33 L149.00 669.17 L149.50 669.02 L150.00 668.88 L150.50 668.74 L151.00 668.60 L151.50 668.47 L152.00 668.34 L152.50 668.22 L153.00 668.10 L153.50 667.98 L154.00 667.87 L154.50 667.76 L155.00 667.66 L155.50 667.55 L156.00 667.45 L156.50 667.36 L157.00 667.26 L157.50 667.17 L158.00 667.08 L158.50 667.00 L159.00 666.92 L159.50 666.83 L160.00 666.76 L160.50 666.68 L161.00 666.61 L161.50 666.54 L162.00 666.47 L162.50 666.40 L163.00 666.33 L163.50 666.27 L164.00 666.21 L164.50 666.15 L165.00 666.09 L165.50 666.04 L166.00 665.98 L166.50 665.93 L167.00 665.88 L167.50 665.83 L168.00 665.78 L168.50 665.73 L169.00 665.69 L169.50 665.64 L170.00 665.60 L170.50 665.56 L171.00 665.52 L171.50 665.48 L172.00 665.44 L172.50 665.40 L173.00 665.36 L173.50 665.33 L174.00 665.29 L174.50 665.26 L175.00 665.23 L175.50 665.20 L176.00 665.17 L176.50 665.14 L177.00 665.11 L177.50 665.08 L178.00 665.05 L178.50 665.02 L179.00 665.00 L179.50 664.97 L180.00 664.95 L180.50 664.92 L181.00 664.90 L181.50 664.88 L182.00 664.85 L182.50 664.83 L183.00 664.81 L183.50 664.79 L184.00 664.77 L184.50 664.75 L185.00 664.73 L185.50 664.71 L186.00 664.69 L186.50 664.67 L187.00 664.65 L187.50 664.63 L188.00 664.62 L188.50 664.60 L189.00 664.58 L189.50 664.56 L190.00 664.55 L190.50 664.53 L191.00 664.52 L191.50 664.50 L192.00 664.49 L192.50 664.47 L193.00 664.45 L193.50 664.44 L194.00 664.43 L194.50 664.41 L195.00 664.40 L195.50 664.38 L196.00 664.37 L196.50 664.35 L197.00 664.34 L197.50 664.33 L198.00 664.31 L198.50 664.30 L199.00 664.29 L199.50 664.27 L200.00 664.26 L200.50 664.25 L201.00 664.23 L201.50 664.22 L202.00 664.21 L202.50 664.19 L203.00 664.18 L203.50 664.17 L204.00 664.16 L204.50 664.14 L205.00 664.13 L205.50 664.12 L206.00 664.10 L206.50 664.09 L207.00 664.08 L207.50 664.07 L208.00 664.05 L208.50 664.04 L209.00 664.03 L209.50 664.01 L210.00 664.00 L210.50 663.99 L211.00 663.97 L211.50 663.96 L212.00 663.95 L212.50 663.94 L213.00 663.92 L213.50 663.91 L214.00 663.90 L214.50 663.88 L215.00 663.87 L215.50 663.86 L216.00 663.84 L216.50 663.83 L217.00 663.82 L217.50 663.80 L218.00 663.79 L218.50 663.78 L219.00 663.76 L219.50 663.75 L220.00 663.73 L220.50 663.72 L221.00 663.71 L221.50 663.69 L222.00 663.68 L222.50 663.66 L223.00 663.65 L223.50 663.64 L224.00 663.62 L224.50 663.61 L225.00 663.59 L225.50 663.58 L226.00 663.57 L226.50 663.55 L227.00 663.54 L227.50 663.52 L228.00 663.51 L228.50 663.49 L229.00 663.48 L229.50 663.46 L230.00 663.45 L230.50 663.43 L231.00 663.42 L231.50 663.41 L232.00 663.39 L232.50 663.38 L233.00 663.36 L233.50 663.35 L234.00 663.33 L234.50 663.32 L235.00 663.30 L235.50 663.29 L236.00 663.27 L236.50 663.26 L237.00 663.24 L237.50 663.22 L238.00 663.21 L238.50 663.19 L239.00 663.18 L239.50 663.16 L240.00 663.15 L240.50 663.13 L241.00 663.12 L241.50 663.10 L242.00 663.09 L242.50 663.07 L243.00 663.06 L243.50 663.04 L244.00 663.02 L244.50 663.01 L245.00 662.99 L245.50 662.98 L246.00 662.96 L246.50 662.95 L247.00 662.93 L247.50 662.92 L248.00 662.90 L248.50 662.89 L249.00 662.87 L249.50 662.85 L250.00 662.84 L252.00 662.78 L254.00 662.71 L256.00 662.65 L258.00 662.59 L260.00 662.53 L262.00 662.47 L264.00 662.41 L266.00 662.35 L268.00 662.29 L270.00 662.23 L272.00 662.17 L274.00 662.11 L276.00 662.06 L278.00 662.00 L280.00 661.94 L282.00 661.89 L284.00 661.83 L286.00 661.78 L288.00 661.73 L290.00 661.67 L292.00 661.62 L294.00 661.57 L296.00 661.52 L298.00 661.47 L300.00 661.42 L302.00 661.37 L304.00 661.33 L306.00 661.28 L308.00 661.23 L310.00 661.19 L312.00 661.15 L314.00 661.10 L316.00 661.06 L318.00 661.02 L320.00 660.98 L322.00 660.94 L324.00 660.90 L326.00 660.86 L328.00 660.82 L330.00 660.78 L332.00 660.74 L334.00 660.71 L336.00 660.67 L338.00 660.64 L340.00 660.60 L342.00 660.57 L344.00 660.54 L346.00 660.50 L348.00 660.47 L350.00 660.44 L352.00 660.41 L354.00 660.38 L356.00 660.35 L358.00 660.32 L360.00 660.29 L362.00 660.26 L364.00 660.23 L366.00 660.21 L368.00 660.18 L370.00 660.15 L372.00 660.13 L374.00 660.10 L376.00 660.08 L378.00 660.05 L380.00 660.03 L382.00 660.01 L384.00 659.98 L386.00 659.96 L388.00 659.94 L390.00 659.91 L392.00 659.89 L394.00 659.87 L396.00 659.85 L398.00 659.83 L400.00 659.81 L402.00 659.79 L404.00 659.77 L406.00 659.75 L408.00 659.73 L410.00 659.71 L412.00 659.70 L414.00 659.68 L416.00 659.66 L418.00 659.64 L420.00 659.63 L422.00 659.61 L424.00 659.59 L426.00 659.58 L428.00 659.56 L430.00 659.54 L432.00 659.53 L434.00 659.51 L436.00 659.50 L438.00 659.48 L440.00 659.47 L442.00 659.45 L444.00 659.44 L446.00 659.43 L448.00 659.41 L450.00 659.40 L452.00 659.39 L454.00 659.37 L456.00 659.36 L458.00 659.35 L460.00 659.33 L462.00 659.32 L464.00 659.31 L466.00 659.30 L468.00 659.29 L470.00 659.28 L472.00 659.26 L474.00 659.25 L476.00 659.24 L478.00 659.23 L480.00 659.22 L482.00 659.21 L484.00 659.20 L486.00 659.19 L488.00 659.18 L490.00 659.17 L492.00 659.16 L494.00 659.15 L496.00 659.14 L498.00 659.13 L500.00 659.12 L502.00 659.11 L504.00 659.10 L506.00 659.09 L508.00 659.08 L510.00 659.08 L512.00 659.07 L514.00 659.06 L516.00 659.05 L518.00 659.04 L520.00 659.03 L522.00 659.03 L524.00 659.02 L526.00 659.01 L528.00 659.00 L530.00 658.99 L532.00 658.99 L534.00 658.98 L536.00 658.97 L538.00 658.97 L540.00 658.96 L542.00 658.95 L544.00 658.94 L546.00 658.94 L548.00 658.93 L550.00 658.92 L552.00 658.92 L554.00 658.91 L556.00 658.90 L558.00 658.90 L560.00 658.89 L562.00 658.89 L564.00 658.88 L566.00 658.87 L568.00 658.87 L570.00 658.86 L572.00 658.86 L574.00 658.85 L576.00 658.84 L578.00 658.84 L580.00 658.83 L582.00 658.83 L584.00 658.82 L586.00 658.82 L588.00 658.81 L590.00 658.81 L592.00 658.80 L594.00 658.80 L596.00 658.79 L598.00 658.79 L600.00 658.78 L602.00 658.78 L604.00 658.77 L606.00 658.77 L608.00 658.76 L610.00 658.76 L612.00 658.75 L614.00 658.75 L616.00 658.74 L618.00 658.74 L620.00 658.73 L622.00 658.73 L624.00 658.73 L626.00 658.72 L628.00 658.72 L630.00 658.71 L632.00 658.71 L633.50 658.71" stroke="#000" stroke-width="3.7" fill="none" stroke-dasharray="14.82 3.71 7.41 3.71" stroke-dashoffset="26.99"/>
<path d="M84.50 819.00 L84.75 818.96 L85.00 818.83 L85.25 818.63 L85.50 818.34 L85.75 817.96 L86.00 817.51 L86.25 816.98 L86.50 816.37 L86.75 815.69 L87.00 814.94 L87.25 814.11 L87.50 813.21 L87.75 812.26 L88.00 811.24 L88.25 810.16 L88.50 809.02 L88.75 807.84 L89.00 806.61 L89.25 805.34 L89.50 804.04 L89.75 802.70 L90.00 801.34 L90.25 799.96 L90.50 798.56 L90.75 797.15 L91.00 795.74 L91.25 794.32 L91.50 792.91 L91.75 791.51 L92.00 790.12 L92.25 788.74 L92.50 787.38 L92.75 786.04 L93.00 784.72 L93.25 783.42 L93.50 782.14 L93.75 780.87 L94.00 779.63 L94.25 778.40 L94.50 777.19 L94.75 775.98 L95.00 774.79 L95.25 773.60 L95.50 772.42 L95.75 771.24 L96.00 770.06 L96.25 768.88 L96.50 767.69 L96.75 766.50 L97.00 765.31 L97.25 764.11 L97.50 762.90 L97.75 761.68 L98.00 760.45 L98.25 759.22 L98.50 757.98 L98.75 756.73 L99.00 755.48 L99.25 754.23 L99.50 752.96 L99.75 751.70 L100.00 750.43 L100.25 749.16 L100.50 747.89 L100.75 746.62 L101.00 745.36 L101.25 744.09 L101.50 742.83 L101.75 741.57 L102.00 740.31 L102.25 739.06 L102.50 737.81 L102.75 736.58 L103.00 735.35 L103.25 734.12 L103.50 732.91 L103.75 731.70 L104.00 730.50 L104.25 729.31 L104.50 728.14 L104.75 726.97 L105.00 725.81 L105.25 724.66 L105.50 723.53 L105.75 722.40 L106.00 721.29 L106.25 720.19 L106.50 719.10 L106.75 718.02 L107.00 716.95 L107.25 715.90 L107.50 714.86 L107.75 713.82 L108.00 712.81 L108.25 711.80 L108.50 710.80 L108.75 709.82 L109.00 708.85 L109.25 707.89 L109.50 706.94 L109.75 706.01 L110.00 705.08 L110.25 704.17 L110.50 703.27 L110.75 702.38 L111.00 701.50 L111.25 700.63 L111.50 699.77 L111.75 698.92 L112.00 698.09 L112.25 697.26 L112.50 696.45 L112.75 695.65 L113.00 694.85 L113.25 694.07 L113.50 693.29 L113.75 692.53 L114.00 691.78 L114.25 691.03 L114.50 690.30 L114.75 689.57 L115.00 688.85 L115.25 688.15 L115.50 687.45 L115.75 686.76 L116.00 686.08 L116.25 685.40 L116.50 684.74 L116.75 684.08 L117.00 683.44 L117.25 682.80 L117.50 682.16 L117.75 681.54 L118.00 680.92 L118.25 680.31 L118.50 679.71 L118.75 679.12 L119.00 678.53 L119.25 677.95 L119.50 677.38 L119.75 676.81 L120.00 676.25 L120.25 675.70 L120.50 675.15 L120.75 674.61 L121.00 674.08 L121.25 673.55 L121.50 673.03 L121.75 672.52 L122.00 672.01 L122.25 671.50 L122.50 671.00 L122.75 670.51 L123.00 670.02 L123.25 669.54 L123.50 669.07 L123.75 668.60 L124.00 668.13 L124.25 667.67 L124.50 667.21 L124.75 666.76 L125.00 666.32 L125.25 665.88 L125.50 665.44 L125.75 665.01 L126.00 664.58 L126.25 664.16 L126.50 663.74 L126.75 663.32 L127.00 662.91 L127.25 662.51 L127.50 662.11 L127.75 661.71 L128.00 661.32 L128.25 660.93 L128.50 660.54 L128.75 660.16 L129.00 659.78 L129.25 659.41 L129.50 659.03 L129.75 658.67 L130.00 658.30 L130.50 657.59 L131.00 656.88 L131.50 656.19 L132.00 655.51 L132.50 654.85 L133.00 654.19 L133.50 653.55 L134.00 652.92 L134.50 652.30 L135.00 651.69 L135.50 651.09 L136.00 650.50 L136.50 649.92 L137.00 649.35 L137.50 648.79 L138.00 648.23 L138.50 647.69 L139.00 647.15 L139.50 646.63 L140.00 646.11 L140.50 645.60 L141.00 645.09 L141.50 644.60 L142.00 644.11 L142.50 643.63 L143.00 643.15 L143.50 642.68 L144.00 642.22 L144.50 641.77 L145.00 641.32 L145.50 640.87 L146.00 640.44 L146.50 640.01 L147.00 639.58 L147.50 639.16 L148.00 638.75 L148.50 638.34 L149.00 637.93 L149.50 637.53 L150.00 637.14 L150.50 636.75 L151.00 636.37 L151.50 635.99 L152.00 635.61 L152.50 635.24 L153.00 634.88 L153.50 634.51 L154.00 634.16 L154.50 633.80 L155.00 633.45 L155.50 633.11 L156.00 632.77 L156.50 632.43 L157.00 632.10 L157.50 631.77 L158.00 631.44 L158.50 631.12 L159.00 630.80 L159.50 630.48 L160.00 630.17 L160.50 629.86 L161.00 629.56 L161.50 629.25 L162.00 628.95 L162.50 628.66 L163.00 628.37 L163.50 628.08 L164.00 627.79 L164.50 627.50 L165.00 627.22 L165.50 626.94 L166.00 626.67 L166.50 626.40 L167.00 626.13 L167.50 625.86 L168.00 625.60 L168.50 625.33 L169.00 625.07 L169.50 624.82 L170.00 624.56 L170.50 624.31 L171.00 624.06 L171.50 623.81 L172.00 623.57 L172.50 623.33 L173.00 623.09 L173.50 622.85 L174.00 622.61 L174.50 622.38 L175.00 622.15 L175.50 621.92 L176.00 621.69 L176.50 621.47 L177.00 621.25 L177.50 621.02 L178.00 620.81 L178.50 620.59 L179.00 620.37 L179.50 620.16 L180.00 619.95 L180.50 619.74 L181.00 619.54 L181.50 619.33 L182.00 619.13 L182.50 618.92 L183.00 618.73 L183.50 618.53 L184.00 618.33 L184.50 618.14 L185.00 617.94 L185.50 617.75 L186.00 617.56 L186.50 617.37 L187.00 617.19 L187.50 617.00 L188.00 616.82 L188.50 616.64 L189.00 616.46 L189.50 616.28 L190.00 616.10 L190.50 615.93 L191.00 615.76 L191.50 615.58 L192.00 615.41 L192.50 615.24 L193.00 615.07 L193.50 614.91 L194.00 614.74 L194.50 614.58 L195.00 614.42 L195.50 614.26 L196.00 614.10 L196.50 613.94 L197.00 613.78 L197.50 613.62 L198.00 613.47 L198.50 613.32 L199.00 613.16 L199.50 613.01 L200.00 612.86 L200.50 612.72 L201.00 612.57 L201.50 612.42 L202.00 612.28 L202.50 612.13 L203.00 611.99 L203.50 611.85 L204.00 611.71 L204.50 611.57 L205.00 611.43 L205.50 611.30 L206.00 611.16 L206.50 611.03 L207.00 610.89 L207.50 610.76 L208.00 610.63 L208.50 610.50 L209.00 610.37 L209.50 610.24 L210.00 610.11 L210.50 609.99 L211.00 609.86 L211.50 609.74 L212.00 609.61 L212.50 609.49 L213.00 609.37 L213.50 609.25 L214.00 609.13 L214.50 609.01 L215.00 608.89 L215.50 608.78 L216.00 608.66 L216.50 608.54 L217.00 608.43 L217.50 608.32 L218.00 608.20 L218.50 608.09 L219.00 607.98 L219.50 607.87 L220.00 607.76 L220.50 607.65 L221.00 607.55 L221.50 607.44 L222.00 607.33 L222.50 607.23 L223.00 607.12 L223.50 607.02 L224.00 606.92 L224.50 606.82 L225.00 606.71 L225.50 606.61 L226.00 606.51 L226.50 606.42 L227.00 606.32 L227.50 606.22 L228.00 606.12 L228.50 606.03 L229.00 605.93 L229.50 605.84 L230.00 605.74 L230.50 605.65 L231.00 605.56 L231.50 605.46 L232.00 605.37 L232.50 605.28 L233.00 605.19 L233.50 605.10 L234.00 605.01 L234.50 604.93 L235.00 604.84 L235.50 604.75 L236.00 604.67 L236.50 604.58 L237.00 604.50 L237.50 604.41 L238.00 604.33 L238.50 604.24 L239.00 604.16 L239.50 604.08 L240.00 604.00 L240.50 603.92 L241.00 603.84 L241.50 603.76 L242.00 603.68 L242.50 603.60 L243.00 603.52 L243.50 603.44 L244.00 603.37 L244.50 603.29 L245.00 603.21 L245.50 603.14 L246.00 603.06 L246.50 602.99 L247.00 602.92 L247.50 602.84 L248.00 602.77 L248.50 602.70 L249.00 602.63 L249.50 602.55 L250.00 602.48 L252.00 602.21 L254.00 601.93 L256.00 601.67 L258.00 601.41 L260.00 601.16 L262.00 600.92 L264.00 600.68 L266.00 600.45 L268.00 600.23 L270.00 600.01 L272.00 599.79 L274.00 599.58 L276.00 599.38 L278.00 599.18 L280.00 598.99 L282.00 598.80 L284.00 598.62 L286.00 598.44 L288.00 598.26 L290.00 598.09 L292.00 597.92 L294.00 597.76 L296.00 597.60 L298.00 597.44 L300.00 597.29 L302.00 597.14 L304.00 597.00 L306.00 596.86 L308.00 596.72 L310.00 596.58 L312.00 596.45 L314.00 596.32 L316.00 596.19 L318.00 596.07 L320.00 595.95 L322.00 595.83 L324.00 595.71 L326.00 595.60 L328.00 595.49 L330.00 595.38 L332.00 595.27 L334.00 595.17 L336.00 595.07 L338.00 594.97 L340.00 594.87 L342.00 594.77 L344.00 594.68 L346.00 594.59 L348.00 594.50 L350.00 594.41 L352.00 594.32 L354.00 594.23 L356.00 594.15 L358.00 594.07 L360.00 593.99 L362.00 593.91 L364.00 593.83 L366.00 593.76 L368.00 593.68 L370.00 593.61 L372.00 593.54 L374.00 593.47 L376.00 593.40 L378.00 593.33 L380.00 593.27 L382.00 593.20 L384.00 593.14 L386.00 593.07 L388.00 593.01 L390.00 592.95 L392.00 592.89 L394.00 592.83 L396.00 592.77 L398.00 592.72 L400.00 592.66 L402.00 592.61 L404.00 592.55 L406.00 592.50 L408.00 592.45 L410.00 592.40 L412.00 592.35 L414.00 592.30 L416.00 592.25 L418.00 592.20 L420.00 592.16 L422.00 592.11 L424.00 592.07 L426.00 592.02 L428.00 591.98 L430.00 591.93 L432.00 591.89 L434.00 591.85 L436.00 591.81 L438.00 591.77 L440.00 591.73 L442.00 591.69 L444.00 591.65 L446.00 591.61 L448.00 591.57 L450.00 591.54 L452.00 591.50 L454.00 591.46 L456.00 591.43 L458.00 591.39 L460.00 591.36 L462.00 591.33 L464.00 591.29 L466.00 591.26 L468.00 591.23 L470.00 591.20 L472.00 591.17 L474.00 591.13 L476.00 591.10 L478.00 591.07 L480.00 591.05 L482.00 591.02 L484.00 590.99 L486.00 590.96 L488.00 590.93 L490.00 590.90 L492.00 590.88 L494.00 590.85 L496.00 590.82 L498.00 590.80 L500.00 590.77 L502.00 590.75 L504.00 590.72 L506.00 590.70 L508.00 590.67 L510.00 590.65 L512.00 590.62 L514.00 590.60 L516.00 590.58 L518.00 590.56 L520.00 590.53 L522.00 590.51 L524.00 590.49 L526.00 590.47 L528.00 590.45 L530.00 590.43 L532.00 590.40 L534.00 590.38 L536.00 590.36 L538.00 590.34 L540.00 590.32 L542.00 590.30 L544.00 590.29 L546.00 590.27 L548.00 590.25 L550.00 590.23 L552.00 590.21 L554.00 590.19 L556.00 590.17 L558.00 590.16 L560.00 590.14 L562.00 590.12 L564.00 590.11 L566.00 590.09 L568.00 590.07 L570.00 590.06 L572.00 590.04 L574.00 590.02 L576.00 590.01 L578.00 589.99 L580.00 589.98 L582.00 589.96 L584.00 589.95 L586.00 589.93 L588.00 589.92 L590.00 589.90 L592.00 589.89 L594.00 589.87 L596.00 589.86 L598.00 589.84 L600.00 589.83 L602.00 589.82 L604.00 589.80 L606.00 589.79 L608.00 589.78 L610.00 589.76 L612.00 589.75 L614.00 589.74 L616.00 589.73 L618.00 589.71 L620.00 589.70 L622.00 589.69 L624.00 589.68 L626.00 589.66 L628.00 589.65 L630.00 589.64 L632.00 589.63 L633.50 589.62" stroke="#000" stroke-width="3.7" fill="none" stroke-dasharray="3.71 3.71" stroke-dashoffset="7.09"/>
<path d="M84.50 819.00 L84.75 818.97 L85.00 818.88 L85.25 818.73 L85.50 818.51 L85.75 818.24 L86.00 817.91 L86.25 817.52 L86.50 817.08 L86.75 816.57 L87.00 816.02 L87.25 815.41 L87.50 814.76 L87.75 814.05 L88.00 813.30 L88.25 812.50 L88.50 811.66 L88.75 810.79 L89.00 809.87 L89.25 808.91 L89.50 807.92 L89.75 806.90 L90.00 805.85 L90.25 804.78 L90.50 803.67 L90.75 802.54 L91.00 801.39 L91.25 800.23 L91.50 799.04 L91.75 797.83 L92.00 796.62 L92.25 795.38 L92.50 794.14 L92.75 792.89 L93.00 791.62 L93.25 790.35 L93.50 789.08 L93.75 787.80 L94.00 786.51 L94.25 785.22 L94.50 783.93 L94.75 782.64 L95.00 781.35 L95.25 780.05 L95.50 778.76 L95.75 777.47 L96.00 776.18 L96.25 774.89 L96.50 773.61 L96.75 772.33 L97.00 771.05 L97.25 769.78 L97.50 768.51 L97.75 767.24 L98.00 765.98 L98.25 764.72 L98.50 763.47 L98.75 762.22 L99.00 760.98 L99.25 759.74 L99.50 758.51 L99.75 757.29 L100.00 756.06 L100.25 754.85 L100.50 753.64 L100.75 752.43 L101.00 751.23 L101.25 750.04 L101.50 748.84 L101.75 747.66 L102.00 746.48 L102.25 745.30 L102.50 744.13 L102.75 742.97 L103.00 741.81 L103.25 740.65 L103.50 739.50 L103.75 738.35 L104.00 737.21 L104.25 736.07 L104.50 734.94 L104.75 733.81 L105.00 732.68 L105.25 731.56 L105.50 730.45 L105.75 729.33 L106.00 728.22 L106.25 727.12 L106.50 726.02 L106.75 724.92 L107.00 723.83 L107.25 722.74 L107.50 721.65 L107.75 720.57 L108.00 719.49 L108.25 718.41 L108.50 717.34 L108.75 716.27 L109.00 715.21 L109.25 714.14 L109.50 713.08 L109.75 712.03 L110.00 710.97 L110.25 709.92 L110.50 708.88 L110.75 707.83 L111.00 706.79 L111.25 705.76 L111.50 704.72 L111.75 703.69 L112.00 702.66 L112.25 701.64 L112.50 700.62 L112.75 699.60 L113.00 698.58 L113.25 697.57 L113.50 696.56 L113.75 695.55 L114.00 694.55 L114.25 693.55 L114.50 692.55 L114.75 691.55 L115.00 690.56 L115.25 689.57 L115.50 688.59 L115.75 687.61 L116.00 686.63 L116.25 685.65 L116.50 684.68 L116.75 683.71 L117.00 682.74 L117.25 681.78 L117.50 680.82 L117.75 679.87 L118.00 678.92 L118.25 677.97 L118.50 677.02 L118.75 676.08 L119.00 675.14 L119.25 674.21 L119.50 673.28 L119.75 672.35 L120.00 671.43 L120.25 670.51 L120.50 669.60 L120.75 668.69 L121.00 667.78 L121.25 666.88 L121.50 665.98 L121.75 665.09 L122.00 664.20 L122.25 663.31 L122.50 662.43 L122.75 661.56 L123.00 660.69 L123.25 659.82 L123.50 658.96 L123.75 658.11 L124.00 657.26 L124.25 656.41 L124.50 655.57 L124.75 654.73 L125.00 653.90 L125.25 653.08 L125.50 652.26 L125.75 651.45 L126.00 650.64 L126.25 649.83 L126.50 649.04 L126.75 648.24 L127.00 647.46 L127.25 646.68 L127.50 645.90 L127.75 645.14 L128.00 644.37 L128.25 643.62 L128.50 642.87 L128.75 642.12 L129.00 641.38 L129.25 640.65 L129.50 639.92 L129.75 639.20 L130.00 638.49 L130.50 637.08 L131.00 635.70 L131.50 634.34 L132.00 633.00 L132.50 631.69 L133.00 630.41 L133.50 629.14 L134.00 627.91 L134.50 626.69 L135.00 625.51 L135.50 624.34 L136.00 623.20 L136.50 622.07 L137.00 620.98 L137.50 619.90 L138.00 618.84 L138.50 617.80 L139.00 616.79 L139.50 615.79 L140.00 614.81 L140.50 613.85 L141.00 612.91 L141.50 611.99 L142.00 611.08 L142.50 610.19 L143.00 609.31 L143.50 608.45 L144.00 607.61 L144.50 606.78 L145.00 605.96 L145.50 605.15 L146.00 604.36 L146.50 603.58 L147.00 602.82 L147.50 602.06 L148.00 601.32 L148.50 600.59 L149.00 599.87 L149.50 599.16 L150.00 598.46 L150.50 597.77 L151.00 597.08 L151.50 596.41 L152.00 595.75 L152.50 595.10 L153.00 594.45 L153.50 593.82 L154.00 593.19 L154.50 592.57 L155.00 591.95 L155.50 591.35 L156.00 590.75 L156.50 590.16 L157.00 589.58 L157.50 589.01 L158.00 588.44 L158.50 587.88 L159.00 587.32 L159.50 586.77 L160.00 586.23 L160.50 585.69 L161.00 585.17 L161.50 584.64 L162.00 584.12 L162.50 583.61 L163.00 583.11 L163.50 582.61 L164.00 582.11 L164.50 581.63 L165.00 581.14 L165.50 580.67 L166.00 580.19 L166.50 579.73 L167.00 579.26 L167.50 578.81 L168.00 578.36 L168.50 577.91 L169.00 577.47 L169.50 577.03 L170.00 576.60 L170.50 576.17 L171.00 575.75 L171.50 575.33 L172.00 574.92 L172.50 574.51 L173.00 574.10 L173.50 573.70 L174.00 573.31 L174.50 572.92 L175.00 572.53 L175.50 572.14 L176.00 571.77 L176.50 571.39 L177.00 571.02 L177.50 570.65 L178.00 570.29 L178.50 569.93 L179.00 569.57 L179.50 569.22 L180.00 568.87 L180.50 568.53 L181.00 568.19 L181.50 567.85 L182.00 567.52 L182.50 567.19 L183.00 566.86 L183.50 566.54 L184.00 566.22 L184.50 565.90 L185.00 565.59 L185.50 565.28 L186.00 564.97 L186.50 564.67 L187.00 564.37 L187.50 564.07 L188.00 563.78 L188.50 563.49 L189.00 563.20 L189.50 562.91 L190.00 562.63 L190.50 562.35 L191.00 562.07 L191.50 561.80 L192.00 561.53 L192.50 561.26 L193.00 560.99 L193.50 560.73 L194.00 560.47 L194.50 560.21 L195.00 559.96 L195.50 559.71 L196.00 559.46 L196.50 559.21 L197.00 558.96 L197.50 558.72 L198.00 558.48 L198.50 558.24 L199.00 558.01 L199.50 557.78 L200.00 557.55 L200.50 557.32 L201.00 557.09 L201.50 556.87 L202.00 556.65 L202.50 556.43 L203.00 556.21 L203.50 555.99 L204.00 555.78 L204.50 555.57 L205.00 555.36 L205.50 555.15 L206.00 554.95 L206.50 554.74 L207.00 554.54 L207.50 554.34 L208.00 554.15 L208.50 553.95 L209.00 553.76 L209.50 553.57 L210.00 553.38 L210.50 553.19 L211.00 553.00 L211.50 552.82 L212.00 552.63 L212.50 552.45 L213.00 552.27 L213.50 552.10 L214.00 551.92 L214.50 551.74 L215.00 551.57 L215.50 551.40 L216.00 551.23 L216.50 551.06 L217.00 550.90 L217.50 550.73 L218.00 550.57 L218.50 550.41 L219.00 550.24 L219.50 550.09 L220.00 549.93 L220.50 549.77 L221.00 549.62 L221.50 549.46 L222.00 549.31 L222.50 549.16 L223.00 549.01 L223.50 548.86 L224.00 548.72 L224.50 548.57 L225.00 548.43 L225.50 548.28 L226.00 548.14 L226.50 548.00 L227.00 547.86 L227.50 547.73 L228.00 547.59 L228.50 547.45 L229.00 547.32 L229.50 547.19 L230.00 547.05 L230.50 546.92 L231.00 546.79 L231.50 546.67 L232.00 546.54 L232.50 546.41 L233.00 546.29 L233.50 546.16 L234.00 546.04 L234.50 545.92 L235.00 545.80 L235.50 545.68 L236.00 545.56 L236.50 545.44 L237.00 545.32 L237.50 545.21 L238.00 545.09 L238.50 544.98 L239.00 544.86 L239.50 544.75 L240.00 544.64 L240.50 544.53 L241.00 544.42 L241.50 544.31 L242.00 544.20 L242.50 544.10 L243.00 543.99 L243.50 543.89 L244.00 543.78 L244.50 543.68 L245.00 543.58 L245.50 543.47 L246.00 543.37 L246.50 543.27 L247.00 543.17 L247.50 543.08 L248.00 542.98 L248.50 542.88 L249.00 542.79 L249.50 542.69 L250.00 542.60 L252.00 542.22 L254.00 541.87 L256.00 541.52 L258.00 541.18 L260.00 540.85 L262.00 540.53 L264.00 540.23 L266.00 539.93 L268.00 539.64 L270.00 539.35 L272.00 539.08 L274.00 538.81 L276.00 538.56 L278.00 538.31 L280.00 538.06 L282.00 537.82 L284.00 537.59 L286.00 537.37 L288.00 537.15 L290.00 536.94 L292.00 536.73 L294.00 536.53 L296.00 536.33 L298.00 536.14 L300.00 535.95 L302.00 535.77 L304.00 535.59 L306.00 535.42 L308.00 535.25 L310.00 535.09 L312.00 534.93 L314.00 534.77 L316.00 534.62 L318.00 534.47 L320.00 534.32 L322.00 534.18 L324.00 534.04 L326.00 533.91 L328.00 533.78 L330.00 533.65 L332.00 533.52 L334.00 533.40 L336.00 533.28 L338.00 533.16 L340.00 533.04 L342.00 532.93 L344.00 532.82 L346.00 532.71 L348.00 532.61 L350.00 532.50 L352.00 532.40 L354.00 532.30 L356.00 532.20 L358.00 532.11 L360.00 532.02 L362.00 531.93 L364.00 531.84 L366.00 531.75 L368.00 531.66 L370.00 531.58 L372.00 531.50 L374.00 531.42 L376.00 531.34 L378.00 531.26 L380.00 531.18 L382.00 531.11 L384.00 531.04 L386.00 530.96 L388.00 530.89 L390.00 530.82 L392.00 530.76 L394.00 530.69 L396.00 530.63 L398.00 530.56 L400.00 530.50 L402.00 530.44 L404.00 530.38 L406.00 530.32 L408.00 530.26 L410.00 530.20 L412.00 530.14 L414.00 530.09 L416.00 530.03 L418.00 529.98 L420.00 529.93 L422.00 529.88 L424.00 529.83 L426.00 529.78 L428.00 529.73 L430.00 529.68 L432.00 529.63 L434.00 529.58 L436.00 529.54 L438.00 529.49 L440.00 529.45 L442.00 529.41 L444.00 529.36 L446.00 529.32 L448.00 529.28 L450.00 529.24 L452.00 529.20 L454.00 529.16 L456.00 529.12 L458.00 529.08 L460.00 529.04 L462.00 529.01 L464.00 528.97 L466.00 528.93 L468.00 528.90 L470.00 528.86 L472.00 528.83 L474.00 528.79 L476.00 528.76 L478.00 528.73 L480.00 528.69 L482.00 528.66 L484.00 528.63 L486.00 528.60 L488.00 528.57 L490.00 528.54 L492.00 528.51 L494.00 528.48 L496.00 528.45 L498.00 528.42 L500.00 528.39 L502.00 528.37 L504.00 528.34 L506.00 528.31 L508.00 528.29 L510.00 528.26 L512.00 528.23 L514.00 528.21 L516.00 528.18 L518.00 528.16 L520.00 528.13 L522.00 528.11 L524.00 528.09 L526.00 528.06 L528.00 528.04 L530.00 528.02 L532.00 527.99 L534.00 527.97 L536.00 527.95 L538.00 527.93 L540.00 527.91 L542.00 527.89 L544.00 527.86 L546.00 527.84 L548.00 527.82 L550.00 527.80 L552.00 527.78 L554.00 527.76 L556.00 527.74 L558.00 527.73 L560.00 527.71 L562.00 527.69 L564.00 527.67 L566.00 527.65 L568.00 527.63 L570.00 527.62 L572.00 527.60 L574.00 527.58 L576.00 527.56 L578.00 527.55 L580.00 527.53 L582.00 527.51 L584.00 527.50 L586.00 527.48 L588.00 527.47 L590.00 527.45 L592.00 527.43 L594.00 527.42 L596.00 527.40 L598.00 527.39 L600.00 527.37 L602.00 527.36 L604.00 527.34 L606.00 527.33 L608.00 527.32 L610.00 527.30 L612.00 527.29 L614.00 527.27 L616.00 527.26 L618.00 527.25 L620.00 527.23 L622.00 527.22 L624.00 527.21 L626.00 527.20 L628.00 527.18 L630.00 527.17 L632.00 527.16 L633.50 527.15" stroke="#000" stroke-width="3.7" fill="none" stroke-dasharray="14.82 14.82" stroke-dashoffset="29.30"/>
<path d="M84.50 819.00 L84.75 817.91 L85.00 817.67 L85.25 817.56 L85.50 817.45 L85.75 817.32 L86.00 817.17 L86.25 816.99 L86.50 816.79 L86.75 816.56 L87.00 816.31 L87.25 816.03 L87.50 815.72 L87.75 815.39 L88.00 815.03 L88.25 814.64 L88.50 814.23 L88.75 813.80 L89.00 813.34 L89.25 812.86 L89.50 812.35 L89.75 811.81 L90.00 811.26 L90.25 810.68 L90.50 810.07 L90.75 809.45 L91.00 808.80 L91.25 808.13 L91.50 807.43 L91.75 806.72 L92.00 805.98 L92.25 805.23 L92.50 804.45 L92.75 803.65 L93.00 802.83 L93.25 802.00 L93.50 801.14 L93.75 800.27 L94.00 799.37 L94.25 798.46 L94.50 797.53 L94.75 796.59 L95.00 795.63 L95.25 794.65 L95.50 793.66 L95.75 792.65 L96.00 791.62 L96.25 790.59 L96.50 789.53 L96.75 788.47 L97.00 787.39 L97.25 786.30 L97.50 785.19 L97.75 784.08 L98.00 782.95 L98.25 781.81 L98.50 780.66 L98.75 779.50 L99.00 778.33 L99.25 777.15 L99.50 775.96 L99.75 774.77 L100.00 773.56 L100.25 772.35 L100.50 771.13 L100.75 769.90 L101.00 768.67 L101.25 767.43 L101.50 766.18 L101.75 764.93 L102.00 763.68 L102.25 762.42 L102.50 761.15 L102.75 759.88 L103.00 758.61 L103.25 757.33 L103.50 756.05 L103.75 754.77 L104.00 753.48 L104.25 752.20 L104.50 750.91 L104.75 749.62 L105.00 748.32 L105.25 747.03 L105.50 745.74 L105.75 744.44 L106.00 743.15 L106.25 741.86 L106.50 740.56 L106.75 739.27 L107.00 737.98 L107.25 736.69 L107.50 735.40 L107.75 734.11 L108.00 732.82 L108.25 731.54 L108.50 730.26 L108.75 728.98 L109.00 727.70 L109.25 726.43 L109.50 725.16 L109.75 723.89 L110.00 722.62 L110.25 721.36 L110.50 720.11 L110.75 718.85 L111.00 717.60 L111.25 716.36 L111.50 715.12 L111.75 713.88 L112.00 712.65 L112.25 711.42 L112.50 710.20 L112.75 708.98 L113.00 707.77 L113.25 706.56 L113.50 705.36 L113.75 704.16 L114.00 702.97 L114.25 701.78 L114.50 700.60 L114.75 699.42 L115.00 698.25 L115.25 697.09 L115.50 695.93 L115.75 694.78 L116.00 693.63 L116.25 692.49 L116.50 691.36 L116.75 690.23 L117.00 689.11 L117.25 687.99 L117.50 686.88 L117.75 685.78 L118.00 684.68 L118.25 683.59 L118.50 682.51 L118.75 681.43 L119.00 680.36 L119.25 679.30 L119.50 678.24 L119.75 677.19 L120.00 676.14 L120.25 675.10 L120.50 674.07 L120.75 673.05 L121.00 672.03 L121.25 671.01 L121.50 670.01 L121.75 669.01 L122.00 668.01 L122.25 667.03 L122.50 666.05 L122.75 665.07 L123.00 664.11 L123.25 663.15 L123.50 662.19 L123.75 661.25 L124.00 660.30 L124.25 659.37 L124.50 658.44 L124.75 657.52 L125.00 656.60 L125.25 655.70 L125.50 654.79 L125.75 653.90 L126.00 653.01 L126.25 652.12 L126.50 651.24 L126.75 650.37 L127.00 649.51 L127.25 648.65 L127.50 647.80 L127.75 646.95 L128.00 646.11 L128.25 645.27 L128.50 644.44 L128.75 643.62 L129.00 642.80 L129.25 641.99 L129.50 641.19 L129.75 640.39 L130.00 639.60 L130.50 638.03 L131.00 636.48 L131.50 634.95 L132.00 633.45 L132.50 631.97 L133.00 630.51 L133.50 629.08 L134.00 627.66 L134.50 626.26 L135.00 624.89 L135.50 623.53 L136.00 622.20 L136.50 620.88 L137.00 619.59 L137.50 618.31 L138.00 617.05 L138.50 615.81 L139.00 614.59 L139.50 613.38 L140.00 612.20 L140.50 611.03 L141.00 609.87 L141.50 608.74 L142.00 607.62 L142.50 606.51 L143.00 605.42 L143.50 604.35 L144.00 603.29 L144.50 602.25 L145.00 601.22 L145.50 600.21 L146.00 599.21 L146.50 598.23 L147.00 597.25 L147.50 596.30 L148.00 595.35 L148.50 594.42 L149.00 593.50 L149.50 592.60 L150.00 591.70 L150.50 590.82 L151.00 589.95 L151.50 589.10 L152.00 588.25 L152.50 587.42 L153.00 586.59 L153.50 585.78 L154.00 584.98 L154.50 584.19 L155.00 583.41 L155.50 582.64 L156.00 581.88 L156.50 581.13 L157.00 580.39 L157.50 579.66 L158.00 578.94 L158.50 578.23 L159.00 577.53 L159.50 576.83 L160.00 576.15 L160.50 575.47 L161.00 574.80 L161.50 574.14 L162.00 573.49 L162.50 572.85 L163.00 572.22 L163.50 571.59 L164.00 570.97 L164.50 570.36 L165.00 569.76 L165.50 569.16 L166.00 568.57 L166.50 567.99 L167.00 567.41 L167.50 566.85 L168.00 566.28 L168.50 565.73 L169.00 565.18 L169.50 564.64 L170.00 564.11 L170.50 563.58 L171.00 563.06 L171.50 562.54 L172.00 562.03 L172.50 561.53 L173.00 561.03 L173.50 560.53 L174.00 560.05 L174.50 559.57 L175.00 559.09 L175.50 558.62 L176.00 558.16 L176.50 557.70 L177.00 557.24 L177.50 556.79 L178.00 556.35 L178.50 555.91 L179.00 555.48 L179.50 555.05 L180.00 554.62 L180.50 554.20 L181.00 553.79 L181.50 553.38 L182.00 552.97 L182.50 552.57 L183.00 552.17 L183.50 551.78 L184.00 551.39 L184.50 551.01 L185.00 550.63 L185.50 550.25 L186.00 549.88 L186.50 549.52 L187.00 549.15 L187.50 548.79 L188.00 548.44 L188.50 548.08 L189.00 547.74 L189.50 547.39 L190.00 547.05 L190.50 546.71 L191.00 546.38 L191.50 546.05 L192.00 545.72 L192.50 545.40 L193.00 545.08 L193.50 544.76 L194.00 544.45 L194.50 544.14 L195.00 543.83 L195.50 543.53 L196.00 543.23 L196.50 542.93 L197.00 542.64 L197.50 542.34 L198.00 542.06 L198.50 541.77 L199.00 541.49 L199.50 541.21 L200.00 540.93 L200.50 540.66 L201.00 540.39 L201.50 540.12 L202.00 539.85 L202.50 539.59 L203.00 539.33 L203.50 539.07 L204.00 538.82 L204.50 538.56 L205.00 538.31 L205.50 538.07 L206.00 537.82 L206.50 537.58 L207.00 537.34 L207.50 537.10 L208.00 536.87 L208.50 536.63 L209.00 536.40 L209.50 536.17 L210.00 535.95 L210.50 535.72 L211.00 535.50 L211.50 535.28 L212.00 535.06 L212.50 534.85 L213.00 534.63 L213.50 534.42 L214.00 534.21 L214.50 534.00 L215.00 533.80 L215.50 533.59 L216.00 533.39 L216.50 533.19 L217.00 533.00 L217.50 532.80 L218.00 532.61 L218.50 532.41 L219.00 532.22 L219.50 532.03 L220.00 531.85 L220.50 531.66 L221.00 531.48 L221.50 531.30 L222.00 531.12 L222.50 530.94 L223.00 530.76 L223.50 530.59 L224.00 530.41 L224.50 530.24 L225.00 530.07 L225.50 529.90 L226.00 529.74 L226.50 529.57 L227.00 529.41 L227.50 529.24 L228.00 529.08 L228.50 528.92 L229.00 528.76 L229.50 528.61 L230.00 528.45 L230.50 528.30 L231.00 528.15 L231.50 527.99 L232.00 527.85 L232.50 527.70 L233.00 527.55 L233.50 527.40 L234.00 527.26 L234.50 527.12 L235.00 526.97 L235.50 526.83 L236.00 526.69 L236.50 526.55 L237.00 526.42 L237.50 526.28 L238.00 526.15 L238.50 526.01 L239.00 525.88 L239.50 525.75 L240.00 525.62 L240.50 525.49 L241.00 525.36 L241.50 525.24 L242.00 525.11 L242.50 524.99 L243.00 524.86 L243.50 524.74 L244.00 524.62 L244.50 524.50 L245.00 524.38 L245.50 524.26 L246.00 524.14 L246.50 524.03 L247.00 523.91 L247.50 523.80 L248.00 523.68 L248.50 523.57 L249.00 523.46 L249.50 523.35 L250.00 523.24 L252.00 522.81 L254.00 522.39 L256.00 521.99 L258.00 521.60 L260.00 521.22 L262.00 520.86 L264.00 520.50 L266.00 520.16 L268.00 519.83 L270.00 519.51 L272.00 519.19 L274.00 518.89 L276.00 518.60 L278.00 518.31 L280.00 518.03 L282.00 517.76 L284.00 517.50 L286.00 517.25 L288.00 517.00 L290.00 516.76 L292.00 516.53 L294.00 516.30 L296.00 516.08 L298.00 515.87 L300.00 515.66 L302.00 515.46 L304.00 515.26 L306.00 515.07 L308.00 514.88 L310.00 514.70 L312.00 514.52 L314.00 514.34 L316.00 514.17 L318.00 514.01 L320.00 513.85 L322.00 513.69 L324.00 513.54 L326.00 513.39 L328.00 513.25 L330.00 513.10 L332.00 512.97 L334.00 512.83 L336.00 512.70 L338.00 512.57 L340.00 512.44 L342.00 512.32 L344.00 512.20 L346.00 512.08 L348.00 511.97 L350.00 511.86 L352.00 511.75 L354.00 511.64 L356.00 511.53 L358.00 511.43 L360.00 511.33 L362.00 511.23 L364.00 511.13 L366.00 511.04 L368.00 510.95 L370.00 510.86 L372.00 510.77 L374.00 510.68 L376.00 510.60 L378.00 510.52 L380.00 510.43 L382.00 510.35 L384.00 510.28 L386.00 510.20 L388.00 510.12 L390.00 510.05 L392.00 509.98 L394.00 509.91 L396.00 509.84 L398.00 509.77 L400.00 509.70 L402.00 509.64 L404.00 509.57 L406.00 509.51 L408.00 509.45 L410.00 509.39 L412.00 509.33 L414.00 509.27 L416.00 509.21 L418.00 509.15 L420.00 509.10 L422.00 509.04 L424.00 508.99 L426.00 508.94 L428.00 508.89 L430.00 508.84 L432.00 508.79 L434.00 508.74 L436.00 508.69 L438.00 508.64 L440.00 508.59 L442.00 508.55 L444.00 508.50 L446.00 508.46 L448.00 508.42 L450.00 508.37 L452.00 508.33 L454.00 508.29 L456.00 508.25 L458.00 508.21 L460.00 508.17 L462.00 508.13 L464.00 508.09 L466.00 508.05 L468.00 508.02 L470.00 507.98 L472.00 507.94 L474.00 507.91 L476.00 507.87 L478.00 507.84 L480.00 507.81 L482.00 507.77 L484.00 507.74 L486.00 507.71 L488.00 507.68 L490.00 507.64 L492.00 507.61 L494.00 507.58 L496.00 507.55 L498.00 507.52 L500.00 507.49 L502.00 507.47 L504.00 507.44 L506.00 507.41 L508.00 507.38 L510.00 507.35 L512.00 507.33 L514.00 507.30 L516.00 507.28 L518.00 507.25 L520.00 507.23 L522.00 507.20 L524.00 507.18 L526.00 507.15 L528.00 507.13 L530.00 507.10 L532.00 507.08 L534.00 507.06 L536.00 507.04 L538.00 507.01 L540.00 506.99 L542.00 506.97 L544.00 506.95 L546.00 506.93 L548.00 506.91 L550.00 506.88 L552.00 506.86 L554.00 506.84 L556.00 506.82 L558.00 506.80 L560.00 506.79 L562.00 506.77 L564.00 506.75 L566.00 506.73 L568.00 506.71 L570.00 506.69 L572.00 506.67 L574.00 506.66 L576.00 506.64 L578.00 506.62 L580.00 506.60 L582.00 506.59 L584.00 506.57 L586.00 506.55 L588.00 506.54 L590.00 506.52 L592.00 506.51 L594.00 506.49 L596.00 506.48 L598.00 506.46 L600.00 506.44 L602.00 506.43 L604.00 506.41 L606.00 506.40 L608.00 506.39 L610.00 506.37 L612.00 506.36 L614.00 506.34 L616.00 506.33 L618.00 506.32 L620.00 506.30 L622.00 506.29 L624.00 506.28 L626.00 506.26 L628.00 506.25 L630.00 506.24 L632.00 506.22 L633.50 506.21" stroke="#000" stroke-width="3.7" fill="none"/>
<path d="M84.50 819.00 L84.75 818.70 L85.00 817.83 L85.25 816.56 L85.50 815.03 L85.75 813.39 L86.00 811.76 L86.25 810.19 L86.50 808.71 L86.75 807.31 L87.00 806.00 L87.25 804.76 L87.50 803.58 L87.75 802.43 L88.00 801.32 L88.25 800.22 L88.50 799.13 L88.75 798.05 L89.00 796.96 L89.25 795.87 L89.50 794.76 L89.75 793.64 L90.00 792.51 L90.25 791.36 L90.50 790.19 L90.75 789.01 L91.00 787.81 L91.25 786.59 L91.50 785.35 L91.75 784.09 L92.00 782.82 L92.25 781.53 L92.50 780.23 L92.75 778.91 L93.00 777.58 L93.25 776.24 L93.50 774.89 L93.75 773.52 L94.00 772.15 L94.25 770.77 L94.50 769.38 L94.75 767.98 L95.00 766.58 L95.25 765.18 L95.50 763.77 L95.75 762.36 L96.00 760.95 L96.25 759.54 L96.50 758.13 L96.75 756.72 L97.00 755.31 L97.25 753.90 L97.50 752.50 L97.75 751.10 L98.00 749.71 L98.25 748.32 L98.50 746.94 L98.75 745.56 L99.00 744.19 L99.25 742.83 L99.50 741.48 L99.75 740.14 L100.00 738.81 L100.25 737.48 L100.50 736.17 L100.75 734.86 L101.00 733.57 L101.25 732.28 L101.50 731.01 L101.75 729.75 L102.00 728.50 L102.25 727.26 L102.50 726.04 L102.75 724.82 L103.00 723.62 L103.25 722.43 L103.50 721.25 L103.75 720.09 L104.00 718.94 L104.25 717.80 L104.50 716.67 L104.75 715.56 L105.00 714.45 L105.25 713.37 L105.50 712.29 L105.75 711.23 L106.00 710.17 L106.25 709.14 L106.50 708.11 L106.75 707.10 L107.00 706.10 L107.25 705.11 L107.50 704.13 L107.75 703.17 L108.00 702.22 L108.25 701.28 L108.50 700.35 L108.75 699.43 L109.00 698.53 L109.25 697.63 L109.50 696.75 L109.75 695.88 L110.00 695.02 L110.25 694.18 L110.50 693.34 L110.75 692.51 L111.00 691.70 L111.25 690.90 L111.50 690.10 L111.75 689.32 L112.00 688.55 L112.25 687.78 L112.50 687.03 L112.75 686.29 L113.00 685.55 L113.25 684.83 L113.50 684.12 L113.75 683.41 L114.00 682.72 L114.25 682.03 L114.50 681.35 L114.75 680.68 L115.00 680.03 L115.25 679.37 L115.50 678.73 L115.75 678.10 L116.00 677.47 L116.25 676.85 L116.50 676.24 L116.75 675.64 L117.00 675.05 L117.25 674.46 L117.50 673.88 L117.75 673.31 L118.00 672.74 L118.25 672.19 L118.50 671.64 L118.75 671.09 L119.00 670.56 L119.25 670.03 L119.50 669.50 L119.75 668.99 L120.00 668.48 L120.25 667.97 L120.50 667.47 L120.75 666.98 L121.00 666.50 L121.25 666.02 L121.50 665.54 L121.75 665.08 L122.00 664.61 L122.25 664.16 L122.50 663.71 L122.75 663.26 L123.00 662.82 L123.25 662.38 L123.50 661.95 L123.75 661.53 L124.00 661.11 L124.25 660.69 L124.50 660.28 L124.75 659.88 L125.00 659.48 L125.25 659.08 L125.50 658.69 L125.75 658.30 L126.00 657.92 L126.25 657.54 L126.50 657.17 L126.75 656.80 L127.00 656.43 L127.25 656.07 L127.50 655.71 L127.75 655.36 L128.00 655.01 L128.25 654.66 L128.50 654.32 L128.75 653.98 L129.00 653.65 L129.25 653.32 L129.50 652.99 L129.75 652.67 L130.00 652.35 L130.50 651.72 L131.00 651.10 L131.50 650.49 L132.00 649.90 L132.50 649.32 L133.00 648.75 L133.50 648.19 L134.00 647.65 L134.50 647.11 L135.00 646.59 L135.50 646.07 L136.00 645.57 L136.50 645.07 L137.00 644.58 L137.50 644.11 L138.00 643.64 L138.50 643.18 L139.00 642.73 L139.50 642.28 L140.00 641.85 L140.50 641.42 L141.00 641.00 L141.50 640.59 L142.00 640.18 L142.50 639.78 L143.00 639.39 L143.50 639.01 L144.00 638.63 L144.50 638.26 L145.00 637.89 L145.50 637.53 L146.00 637.18 L146.50 636.83 L147.00 636.48 L147.50 636.15 L148.00 635.81 L148.50 635.49 L149.00 635.16 L149.50 634.85 L150.00 634.53 L150.50 634.23 L151.00 633.92 L151.50 633.63 L152.00 633.33 L152.50 633.04 L153.00 632.76 L153.50 632.48 L154.00 632.20 L154.50 631.93 L155.00 631.66 L155.50 631.39 L156.00 631.13 L156.50 630.87 L157.00 630.62 L157.50 630.37 L158.00 630.12 L158.50 629.87 L159.00 629.63 L159.50 629.39 L160.00 629.16 L160.50 628.93 L161.00 628.70 L161.50 628.48 L162.00 628.25 L162.50 628.03 L163.00 627.82 L163.50 627.60 L164.00 627.39 L164.50 627.18 L165.00 626.98 L165.50 626.78 L166.00 626.57 L166.50 626.38 L167.00 626.18 L167.50 625.99 L168.00 625.80 L168.50 625.61 L169.00 625.42 L169.50 625.24 L170.00 625.06 L170.50 624.88 L171.00 624.70 L171.50 624.52 L172.00 624.35 L172.50 624.18 L173.00 624.01 L173.50 623.84 L174.00 623.68 L174.50 623.52 L175.00 623.35 L175.50 623.19 L176.00 623.04 L176.50 622.88 L177.00 622.73 L177.50 622.57 L178.00 622.42 L178.50 622.27 L179.00 622.13 L179.50 621.98 L180.00 621.84 L180.50 621.69 L181.00 621.55 L181.50 621.41 L182.00 621.28 L182.50 621.14 L183.00 621.00 L183.50 620.87 L184.00 620.74 L184.50 620.61 L185.00 620.48 L185.50 620.35 L186.00 620.22 L186.50 620.10 L187.00 619.97 L187.50 619.85 L188.00 619.73 L188.50 619.61 L189.00 619.49 L189.50 619.37 L190.00 619.26 L190.50 619.14 L191.00 619.03 L191.50 618.92 L192.00 618.80 L192.50 618.69 L193.00 618.58 L193.50 618.47 L194.00 618.37 L194.50 618.26 L195.00 618.16 L195.50 618.05 L196.00 617.95 L196.50 617.85 L197.00 617.75 L197.50 617.65 L198.00 617.55 L198.50 617.45 L199.00 617.35 L199.50 617.26 L200.00 617.16 L200.50 617.07 L201.00 616.97 L201.50 616.88 L202.00 616.79 L202.50 616.70 L203.00 616.61 L203.50 616.52 L204.00 616.43 L204.50 616.34 L205.00 616.26 L205.50 616.17 L206.00 616.09 L206.50 616.00 L207.00 615.92 L207.50 615.84 L208.00 615.75 L208.50 615.67 L209.00 615.59 L209.50 615.51 L210.00 615.43 L210.50 615.36 L211.00 615.28 L211.50 615.20 L212.00 615.13 L212.50 615.05 L213.00 614.98 L213.50 614.90 L214.00 614.83 L214.50 614.76 L215.00 614.68 L215.50 614.61 L216.00 614.54 L216.50 614.47 L217.00 614.40 L217.50 614.33 L218.00 614.27 L218.50 614.20 L219.00 614.13 L219.50 614.06 L220.00 614.00 L220.50 613.93 L221.00 613.87 L221.50 613.80 L222.00 613.74 L222.50 613.68 L223.00 613.61 L223.50 613.55 L224.00 613.49 L224.50 613.43 L225.00 613.37 L225.50 613.31 L226.00 613.25 L226.50 613.19 L227.00 613.13 L227.50 613.08 L228.00 613.02 L228.50 612.96 L229.00 612.91 L229.50 612.85 L230.00 612.79 L230.50 612.74 L231.00 612.68 L231.50 612.63 L232.00 612.58 L232.50 612.52 L233.00 612.47 L233.50 612.42 L234.00 612.37 L234.50 612.32 L235.00 612.26 L235.50 612.21 L236.00 612.16 L236.50 612.11 L237.00 612.06 L237.50 612.02 L238.00 611.97 L238.50 611.92 L239.00 611.87 L239.50 611.82 L240.00 611.78 L240.50 611.73 L241.00 611.68 L241.50 611.64 L242.00 611.59 L242.50 611.55 L243.00 611.50 L243.50 611.46 L244.00 611.41 L244.50 611.37 L245.00 611.33 L245.50 611.28 L246.00 611.24 L246.50 611.20 L247.00 611.16 L247.50 611.11 L248.00 611.07 L248.50 611.03 L249.00 610.99 L249.50 610.95 L250.00 610.91 L252.00 610.75 L254.00 610.60 L256.00 610.45 L258.00 610.31 L260.00 610.17 L262.00 610.03 L264.00 609.90 L266.00 609.78 L268.00 609.65 L270.00 609.53 L272.00 609.42 L274.00 609.30 L276.00 609.19 L278.00 609.09 L280.00 608.98 L282.00 608.88 L284.00 608.78 L286.00 608.69 L288.00 608.59 L290.00 608.50 L292.00 608.42 L294.00 608.33 L296.00 608.25 L298.00 608.17 L300.00 608.09 L302.00 608.01 L304.00 607.94 L306.00 607.86 L308.00 607.79 L310.00 607.73 L312.00 607.66 L314.00 607.59 L316.00 607.53 L318.00 607.47 L320.00 607.41 L322.00 607.35 L324.00 607.29 L326.00 607.24 L328.00 607.18 L330.00 607.13 L332.00 607.08 L334.00 607.03 L336.00 606.98 L338.00 606.93 L340.00 606.88 L342.00 606.84 L344.00 606.80 L346.00 606.75 L348.00 606.71 L350.00 606.67 L352.00 606.63 L354.00 606.59 L356.00 606.55 L358.00 606.52 L360.00 606.48 L362.00 606.45 L364.00 606.41 L366.00 606.38 L368.00 606.35 L370.00 606.31 L372.00 606.28 L374.00 606.25 L376.00 606.22 L378.00 606.20 L380.00 606.17 L382.00 606.14 L384.00 606.12 L386.00 606.09 L388.00 606.07 L390.00 606.04 L392.00 606.02 L394.00 605.99 L396.00 605.97 L398.00 605.95 L400.00 605.93 L402.00 605.91 L404.00 605.89 L406.00 605.87 L408.00 605.85 L410.00 605.83 L412.00 605.81 L414.00 605.80 L416.00 605.78 L418.00 605.76 L420.00 605.75 L422.00 605.73 L424.00 605.72 L426.00 605.70 L428.00 605.69 L430.00 605.68 L432.00 605.66 L434.00 605.65 L436.00 605.64 L438.00 605.63 L440.00 605.61 L442.00 605.60 L444.00 605.59 L446.00 605.58 L448.00 605.57 L450.00 605.56 L452.00 605.55 L454.00 605.54 L456.00 605.54 L458.00 605.53 L460.00 605.52 L462.00 605.51 L464.00 605.50 L466.00 605.50 L468.00 605.49 L470.00 605.48 L472.00 605.48 L474.00 605.47 L476.00 605.47 L478.00 605.46 L480.00 605.46 L482.00 605.45 L484.00 605.45 L486.00 605.44 L488.00 605.44 L490.00 605.44 L492.00 605.43 L494.00 605.43 L496.00 605.43 L498.00 605.43 L500.00 605.42 L502.00 605.42 L504.00 605.42 L506.00 605.42 L508.00 605.42 L510.00 605.42 L512.00 605.41 L514.00 605.41 L516.00 605.41 L518.00 605.41 L520.00 605.41 L522.00 605.41 L524.00 605.41 L526.00 605.41 L528.00 605.42 L530.00 605.42 L532.00 605.42 L534.00 605.42 L536.00 605.42 L538.00 605.42 L540.00 605.42 L542.00 605.43 L544.00 605.43 L546.00 605.43 L548.00 605.43 L550.00 605.44 L552.00 605.44 L554.00 605.44 L556.00 605.45 L558.00 605.45 L560.00 605.45 L562.00 605.46 L564.00 605.46 L566.00 605.47 L568.00 605.47 L570.00 605.47 L572.00 605.48 L574.00 605.48 L576.00 605.49 L578.00 605.49 L580.00 605.50 L582.00 605.51 L584.00 605.51 L586.00 605.52 L588.00 605.52 L590.00 605.53 L592.00 605.53 L594.00 605.54 L596.00 605.55 L598.00 605.55 L600.00 605.56 L602.00 605.57 L604.00 605.57 L606.00 605.58 L608.00 605.59 L610.00 605.60 L612.00 605.60 L614.00 605.61 L616.00 605.62 L618.00 605.63 L620.00 605.63 L622.00 605.64 L624.00 605.65 L626.00 605.66 L628.00 605.67 L630.00 605.68 L632.00 605.69 L633.50 605.69" stroke="#000" stroke-width="1.2" fill="none"/>
</g>
<rect x="84.5" y="503.3" width="549.0" height="315.7" fill="none" stroke="#262626" stroke-width="1"/>
<path d="M84.50 819.0v-5.5M84.50 503.3v5.5M221.75 819.0v-5.5M221.75 503.3v5.5M359.00 819.0v-5.5M359.00 503.3v5.5M496.25 819.0v-5.5M496.25 503.3v5.5M633.50 819.0v-5.5M633.50 503.3v5.5M84.5 819.00h5.5M633.5 819.00h-5.5M84.5 755.86h5.5M633.5 755.86h-5.5M84.5 692.72h5.5M633.5 692.72h-5.5M84.5 629.58h5.5M633.5 629.58h-5.5M84.5 566.44h5.5M633.5 566.44h-5.5M84.5 503.30h5.5M633.5 503.30h-5.5" stroke="#262626" stroke-width="1" fill="none"/>
<g transform="translate(84.50 851.30) scale(1.1 1)"><text font-size="24.3" text-anchor="middle" fill="#262626" stroke="#262626" stroke-width="0.1">0</text></g>
<g transform="translate(221.75 851.30) scale(1.1 1)"><text font-size="24.3" text-anchor="middle" fill="#262626" stroke="#262626" stroke-width="0.1">5</text></g>
<g transform="translate(359.00 851.30) scale(1.1 1)"><text font-size="24.3" text-anchor="middle" fill="#262626" stroke="#262626" stroke-width="0.1">10</text></g>
<g transform="translate(496.25 851.30) scale(1.1 1)"><text font-size="24.3" text-anchor="middle" fill="#262626" stroke="#262626" stroke-width="0.1">15</text></g>
<g transform="translate(633.50 851.30) scale(1.1 1)"><text font-size="24.3" text-anchor="middle" fill="#262626" stroke="#262626" stroke-width="0.1">20</text></g>
<g transform="translate(75.90 827.50) scale(1.1 1)"><text font-size="24.3" text-anchor="end" fill="#262626" stroke="#262626" stroke-width="0.1">0</text></g>
<g transform="translate(75.90 764.36) scale(1.1 1)"><text font-size="24.3" text-anchor="end" fill="#262626" stroke="#262626" stroke-width="0.1">0.2</text></g>
<g transform="translate(75.90 701.22) scale(1.1 1)"><text font-size="24.3" text-anchor="end" fill="#262626" stroke="#262626" stroke-width="0.1">0.4</text></g>
<g transform="translate(75.90 638.08) scale(1.1 1)"><text font-size="24.3" text-anchor="end" fill="#262626" stroke="#262626" stroke-width="0.1">0.6</text></g>
<g transform="translate(75.90 574.94) scale(1.1 1)"><text font-size="24.3" text-anchor="end" fill="#262626" stroke="#262626" stroke-width="0.1">0.8</text></g>
<g transform="translate(75.90 511.80) scale(1.1 1)"><text font-size="24.3" text-anchor="end" fill="#262626" stroke="#262626" stroke-width="0.1">1</text></g>
<g transform="translate(19.20 751.10) rotate(-90) scale(1.053 1)"><text font-size="27.5" text-anchor="start" fill="#262626" stroke="#262626" stroke-width="0.15">DEM/DEM</text></g>
<g transform="translate(33.30 611.70) rotate(-90) scale(1.23 1)"><text font-size="19.5" text-anchor="start" fill="#262626" stroke="#262626" stroke-width="0.15">max</text></g>
<g transform="translate(330.00 885.80) scale(1.02 1)"><text font-size="27.5" text-anchor="start" fill="#262626" stroke="#262626" stroke-width="0.15">Ω/Γ</text></g>
<g transform="translate(376.00 898.60) scale(1.17 1)"><text font-size="20.6" text-anchor="start" fill="#262626" stroke="#262626" stroke-width="0.15">0</text></g>
<g transform="translate(3.00 520.30) scale(1.12 1)"><text font-size="24.5" text-anchor="start" fill="#111" stroke="#111" stroke-width="0.1" font-weight="bold">(b)</text></g>
<rect x="429.0" y="634.0" width="168.1" height="170.3" fill="#fff" stroke="#262626" stroke-width="1"/>
<path d="M433.0 649.9h36.9" stroke="#cbcbcb" stroke-width="3.7" fill="none"/>
<g transform="translate(472.70 657.60) scale(1.085 1)"><text font-size="23" text-anchor="start" fill="#262626" stroke="#262626" stroke-width="0.25">d = 10.4 nm</text></g>
<path d="M433.0 677.7h36.9" stroke="#000" stroke-width="3.7" fill="none" stroke-dasharray="14.70 4.20 5.10 3.90"/>
<g transform="translate(472.70 685.40) scale(1.085 1)"><text font-size="23" text-anchor="start" fill="#262626" stroke="#262626" stroke-width="0.25">d = 20.8 nm</text></g>
<path d="M433.0 705.5h36.9" stroke="#000" stroke-width="3.7" fill="none" stroke-dasharray="3.60 3.55"/>
<g transform="translate(472.70 713.20) scale(1.085 1)"><text font-size="23" text-anchor="start" fill="#262626" stroke="#262626" stroke-width="0.25">d = 31.2 nm</text></g>
<path d="M433.0 733.3h36.9" stroke="#000" stroke-width="3.7" fill="none" stroke-dasharray="14.70 15.20"/>
<g transform="translate(472.70 741.00) scale(1.085 1)"><text font-size="23" text-anchor="start" fill="#262626" stroke="#262626" stroke-width="0.25">d = 41.6 nm</text></g>
<path d="M433.0 761.1h36.9" stroke="#000" stroke-width="3.7" fill="none"/>
<g transform="translate(472.70 768.80) scale(1.085 1)"><text font-size="23" text-anchor="start" fill="#262626" stroke="#262626" stroke-width="0.25">d = 52 nm</text></g>
<path d="M433.0 788.9h36.9" stroke="#000" stroke-width="1.3" fill="none"/>
<g transform="translate(472.70 796.60) scale(1.085 1)"><text font-size="23" text-anchor="start" fill="#262626" stroke="#262626" stroke-width="0.25">d = <tspan font-size="28" dy="4.5" stroke="none">∞</tspan></text></g>
</svg>
</body></html>
